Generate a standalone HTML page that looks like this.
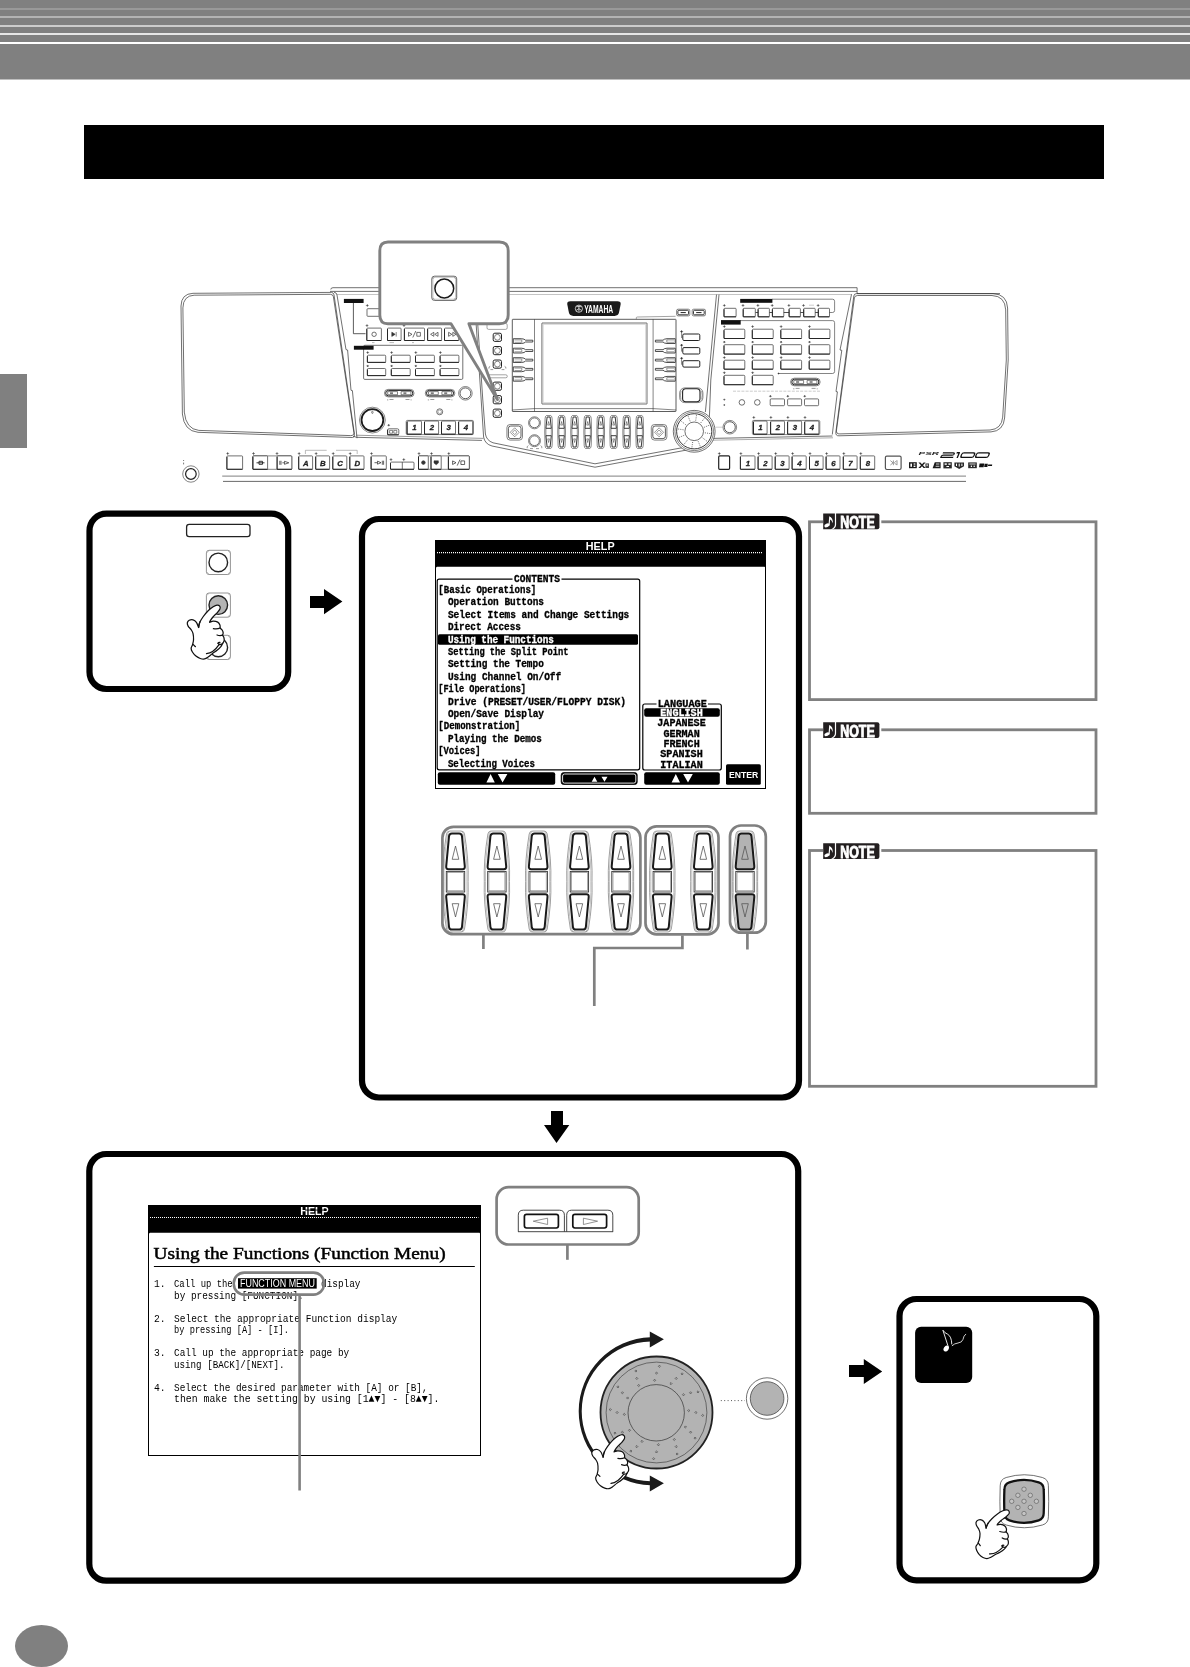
<!DOCTYPE html>
<html><head><meta charset="utf-8">
<style>
html,body{margin:0;padding:0;background:#fff;}
body{width:1190px;height:1667px;overflow:hidden;font-family:"Liberation Sans",sans-serif;}
svg{display:block;position:absolute;left:0;top:0;will-change:transform;}
text{font-family:"Liberation Sans",sans-serif;}
.lcd{font-family:"Liberation Mono",monospace;font-weight:bold;}
.lcdr{font-family:"Liberation Mono",monospace;}
</style></head><body>
<svg width="1190" height="1667" viewBox="0 0 1190 1667">
<!-- HEADER -->
<g id="header">
<rect x="0" y="0" width="1190" height="79.5" fill="#808080"/>
<rect x="0" y="8" width="1190" height="2" fill="#999"/>
<rect x="0" y="16" width="1190" height="2" fill="#b3b3b3"/>
<rect x="0" y="25" width="1190" height="2" fill="#ccc"/>
<rect x="0" y="33" width="1190" height="2" fill="#e6e6e6"/>
<rect x="0" y="42" width="1190" height="2" fill="#fff"/>
<rect x="0" y="374" width="27" height="74" fill="#808080"/>
<ellipse cx="41.5" cy="1646" rx="26.5" ry="21" fill="#808080"/>
<rect x="84" y="125" width="1020" height="54" fill="#000"/>
</g>
<!-- BOXES -->
<g id="boxes" fill="none" stroke="#000" stroke-width="6.2">
<rect x="89.5" y="513.7" width="198.7" height="175.3" rx="17" ry="17"/>
<rect x="362" y="519" width="437" height="578.5" rx="17" ry="17"/>
<rect x="89.3" y="1154" width="708.9" height="426.7" rx="17" ry="17"/>
<rect x="899.5" y="1299" width="196.8" height="281.4" rx="17" ry="17"/>
</g>
<!-- ARROWS -->
<g id="arrows" fill="#000">
<path d="M310 595.9H324V588.9L342.4 601.5L324 614.2V607.9H310Z"/>
<path d="M849 1365.1H863.8V1358.9L882.2 1371.5L863.8 1383.9V1376.9H849Z"/>
<path d="M551 1111H563V1125H569.3L556.5 1143L544 1125H551Z"/>
</g>
<!-- NOTES -->
<g id="notes" fill="none" stroke="#808080" stroke-width="2.8">
<rect x="809.5" y="521.8" width="286.5" height="177.8"/>
<rect x="809.5" y="729.8" width="286.5" height="83.5"/>
<rect x="809.5" y="850.5" width="286.5" height="235.8"/>
</g>
<!-- KEYBOARD -->
<g id="kb" fill="none" stroke="#333" stroke-width="0.7" stroke-linejoin="round">
<path d="M193.0 293.3L331.5 292.4Q333.6 292.5 334.0 294.8L354.5 434.5Q354.8 437.6 352.4 437.5L198.0 432.3Q184.0 431.0 182.4 414.0L181.0 306.0Q181.3 293.8 193.0 293.3Z" fill="#fff"/><path d="M194.1 295.2L330.4 294.3Q333.0 294.4 333.4 296.7L353.9 432.6Q354.2 435.7 350.5 435.6L198.8 430.4Q185.9 429.1 184.3 412.1L182.9 307.9Q183.2 295.7 194.1 295.2Z"/>
<path d="M856.5 293.6L993.0 293.6Q1007.0 294.2 1007.6 308.0L1008.2 360.0L1004.6 418.0Q1003.5 431.0 991.0 431.9L839.0 435.8Q835.3 436.0 835.9 432.0L853.8 296.0Q854.1 293.7 856.5 293.6Z" fill="#fff"/><path d="M857.5 295.5L992.0 295.5Q1005.1 296.1 1005.7 309.9L1006.3 360.0L1002.7 417.1Q1001.6 429.1 990.0 430.0L839.8 433.9Q835.9 434.1 836.5 430.1L854.4 297.9Q854.7 295.6 857.5 295.5Z"/>
<path d="M222.2 476.1H966" stroke="#999" stroke-width="1.3"/><path d="M223 481.4H966" stroke="#444" stroke-width="0.8"/>
<circle cx="190.9" cy="474" r="8.2" stroke-width="0.6"/><circle cx="190.9" cy="474" r="5.3" stroke="#222" stroke-width="1.2"/>
<path d="M183.6 460V461M183.6 462.6V464.4" stroke="#555" stroke-width="0.8"/>
<path d="M330.8 289.5Q330.8 287.7 333 287.7H857.1V291.4"/>
<path d="M330 291.4H857.1"/>
<path d="M337 294.5H852" stroke="#aaa" stroke-width="0.7"/>
<path d="M334 292.2Q336.6 292.4 337 295L346 349.6L347.6 350L351 390.3L352.4 390.6L357 438.2"/>
<path d="M356.5 437.3L482 440.4"/><path d="M353 436.2L356.5 437.3"/>
<path d="M477.8 325L482.8 400L485.4 434Q486.5 440.5 493 442.8L595 463.8L684 447.4"/>
<path d="M476.2 325L481.2 400L483.6 437Q484.8 444 492 446L595 467.2L689 449.6"/>
<path d="M356 435.2L483.4 438.4" stroke="#555" stroke-width="0.6"/>
<path d="M716.5 294.6L705.4 412"/><path d="M719 294.6L710.8 380L708.6 438.3"/>
<path d="M712 438.4L832.4 436"/><path d="M713 440.2L833 437.8" stroke="#777" stroke-width="0.6"/>
<path d="M851.5 294.4L840 350L841.8 350.3L836 391.5L837.4 391.8L832.3 434.5"/>
<path d="M857.1 291.4V293.6H1000" />
</g>
<!-- KB left panel -->
<g id="kb2" fill="none" stroke="#333" stroke-width="0.7" stroke-linejoin="round">
<rect x="343.9" y="298.9" width="19.7" height="4.1" fill="#111" stroke="none"/>
<path d="M353.4 303V333.7H365.5" stroke-width="0.8"/>
<rect x="367.0" y="308.7" width="25.0" height="7.6" rx="0.8" fill="#fff" stroke="#333" stroke-width="0.7" />
<rect x="366.8" y="328.1" width="14.6" height="12.4" rx="0.8" fill="#fff" stroke="#333" stroke-width="0.7" /><path d="M366.8 329.1V340.5H381.4" fill="none" stroke="#222" stroke-width="0.95"/>
<rect x="387.5" y="328.1" width="13.6" height="12.4" rx="0.8" fill="#fff" stroke="#333" stroke-width="0.7" /><path d="M387.5 329.1V340.5H401.1" fill="none" stroke="#222" stroke-width="0.95"/>
<rect x="404.4" y="328.1" width="20.1" height="12.4" rx="0.8" fill="#fff" stroke="#333" stroke-width="0.7" /><path d="M404.4 329.1V340.5H424.5" fill="none" stroke="#222" stroke-width="0.95"/>
<rect x="427.6" y="328.1" width="14.0" height="12.4" rx="0.8" fill="#fff" stroke="#333" stroke-width="0.7" /><path d="M427.6 329.1V340.5H441.6" fill="none" stroke="#222" stroke-width="0.95"/>
<rect x="444.5" y="328.1" width="14.1" height="12.4" rx="0.8" fill="#fff" stroke="#333" stroke-width="0.7" /><path d="M444.5 329.1V340.5H458.6" fill="none" stroke="#222" stroke-width="0.95"/>
<circle cx="374.1" cy="334.3" r="2.2" stroke-width="0.7"/>
<path d="M391.8 332.2L395.2 334.3L391.8 336.4ZM396.2 332V336.6" fill="#333" stroke-width="0.6"/>
<path d="M408.5 332.3L412 334.3L408.5 336.3ZM415.8 331L412.8 337.5M416.8 332.4H420.4V336.2H416.8Z" stroke-width="0.7"/>
<path d="M433.8 332.3L430.6 334.3L433.8 336.3ZM438 332.3L434.8 334.3L438 336.3Z" stroke-width="0.7"/>
<path d="M448.6 332.3L451.8 334.3L448.6 336.3ZM452.8 332.3L456 334.3L452.8 336.3Z" stroke-width="0.7"/>
<path d="M372 342.6H374.5M389.5 342.6H394M412 342.6H414" stroke="#777" stroke-width="0.5"/>
<rect x="363.6" y="345.3" width="99.2" height="34.1" rx="1.2" fill="#fff" stroke="#333" stroke-width="0.7" />
<rect x="353.9" y="345.8" width="19.7" height="3.9" fill="#111" stroke="none"/>
<rect x="367.4" y="355.2" width="18.3" height="7.2" rx="1" fill="#fff" stroke="#333" stroke-width="0.7" /><path d="M367.4 356.2V362.4H385.7" fill="none" stroke="#222" stroke-width="0.95"/>
<rect x="391.3" y="355.2" width="18.9" height="7.2" rx="1" fill="#fff" stroke="#333" stroke-width="0.7" /><path d="M391.3 356.2V362.4H410.2" fill="none" stroke="#222" stroke-width="0.95"/>
<rect x="415.5" y="355.2" width="18.9" height="7.2" rx="1" fill="#fff" stroke="#333" stroke-width="0.7" /><path d="M415.5 356.2V362.4H434.4" fill="none" stroke="#222" stroke-width="0.95"/>
<rect x="440.1" y="355.2" width="18.8" height="7.2" rx="1" fill="#fff" stroke="#333" stroke-width="0.7" /><path d="M440.1 356.2V362.4H458.9" fill="none" stroke="#222" stroke-width="0.95"/>
<rect x="367.4" y="368.5" width="18.3" height="7.1" rx="1" fill="#fff" stroke="#333" stroke-width="0.7" /><path d="M367.4 369.5V375.6H385.7" fill="none" stroke="#222" stroke-width="0.95"/>
<rect x="391.3" y="368.5" width="18.9" height="7.1" rx="1" fill="#fff" stroke="#333" stroke-width="0.7" /><path d="M391.3 369.5V375.6H410.2" fill="none" stroke="#222" stroke-width="0.95"/>
<rect x="415.5" y="368.5" width="18.9" height="7.1" rx="1" fill="#fff" stroke="#333" stroke-width="0.7" /><path d="M415.5 369.5V375.6H434.4" fill="none" stroke="#222" stroke-width="0.95"/>
<rect x="440.1" y="368.5" width="18.8" height="7.1" rx="1" fill="#fff" stroke="#333" stroke-width="0.7" /><path d="M440.1 369.5V375.6H458.9" fill="none" stroke="#222" stroke-width="0.95"/>
<rect x="384.5" y="389.4" width="29.5" height="7.5" rx="3.6" stroke-width="0.6"/><rect x="385.7" y="390.4" width="27.1" height="5.5" rx="2.8" stroke="#222" stroke-width="1"/><rect x="387.7" y="391.6" width="9.8" height="3.1" stroke-width="0.6"/><rect x="401.1" y="391.6" width="9.8" height="3.1" stroke-width="0.6"/><path d="M390.0 393.1h3M403.4 393.1h3" stroke="#222" stroke-width="1"/><path d="M387.0 399.9h1.3M389.5 399.5h4M405.5 399.5h4M410.6 399.9h1" stroke="#555" stroke-width="0.6"/>
<rect x="425.3" y="389.4" width="29.5" height="7.5" rx="3.6" stroke-width="0.6"/><rect x="426.5" y="390.4" width="27.1" height="5.5" rx="2.8" stroke="#222" stroke-width="1"/><rect x="428.5" y="391.6" width="9.8" height="3.1" stroke-width="0.6"/><rect x="441.9" y="391.6" width="9.8" height="3.1" stroke-width="0.6"/><path d="M430.8 393.1h3M444.2 393.1h3" stroke="#222" stroke-width="1"/><path d="M427.8 399.9h1.3M430.3 399.5h4M446.3 399.5h4M451.4 399.9h1" stroke="#555" stroke-width="0.6"/>
<circle cx="465.4" cy="393.3" r="6.8" stroke-width="0.6"/><circle cx="465.4" cy="393.3" r="5.4" stroke-width="0.8"/>
<circle cx="439.7" cy="411.8" r="3" stroke-width="0.7"/><circle cx="439.7" cy="411.8" r="1.8" stroke="#777" stroke-width="0.6"/>
<circle cx="372.4" cy="420.1" r="12.9" stroke-width="0.6"/><circle cx="372.4" cy="420.1" r="10.9" stroke="#1a1a1a" stroke-width="1.8"/>
<ellipse cx="372.4" cy="412.3" rx="0.7" ry="1.2" stroke-width="0.6"/>
<rect x="387.6" y="428.8" width="11.2" height="6.0" rx="1.4" fill="#fff" stroke="#333" stroke-width="0.7" /><path d="M387.6 429.8V434.8H398.8" fill="none" stroke="#222" stroke-width="0.95"/>
<path d="M389.6 430.4H392.6V433.2H389.6ZM393.8 430.4H396.8V433.2H393.8Z" stroke-width="0.6"/>
<rect x="406.2" y="420.4" width="67.3" height="14.2" rx="1.2" fill="#fff" stroke="#333" stroke-width="0.6" /><rect x="407.1" y="421.0" width="14.4" height="13.2" rx="1" fill="#fff" stroke="#333" stroke-width="0.7" /><path d="M407.1 422.0V434.2H421.5" fill="none" stroke="#222" stroke-width="0.95"/><text x="414.5" y="430.4" text-anchor="middle" font-size="7.8" font-weight="bold" font-style="italic" fill="#222" stroke="#222" stroke-width="0.3">1</text><rect x="424.5" y="421.0" width="14.1" height="13.2" rx="1" fill="#fff" stroke="#333" stroke-width="0.7" /><path d="M424.5 422.0V434.2H438.6" fill="none" stroke="#222" stroke-width="0.95"/><text x="431.8" y="430.4" text-anchor="middle" font-size="7.8" font-weight="bold" font-style="italic" fill="#222" stroke="#222" stroke-width="0.3">2</text><rect x="441.5" y="421.0" width="14.0" height="13.2" rx="1" fill="#fff" stroke="#333" stroke-width="0.7" /><path d="M441.5 422.0V434.2H455.5" fill="none" stroke="#222" stroke-width="0.95"/><text x="448.7" y="430.4" text-anchor="middle" font-size="7.8" font-weight="bold" font-style="italic" fill="#222" stroke="#222" stroke-width="0.3">3</text><rect x="458.6" y="421.0" width="14.0" height="13.2" rx="1" fill="#fff" stroke="#333" stroke-width="0.7" /><path d="M458.6 422.0V434.2H472.6" fill="none" stroke="#222" stroke-width="0.95"/><text x="465.8" y="430.4" text-anchor="middle" font-size="7.8" font-weight="bold" font-style="italic" fill="#222" stroke="#222" stroke-width="0.3">4</text>
<path d="M367.3 304.5L368.3 305.5L367.3 306.5L366.3 305.5ZM367.0 324.6L368.0 325.6L367.0 326.6L366.0 325.6ZM404.0 324.6L405.0 325.6L404.0 326.6L403.0 325.6ZM367.7 351.6L368.7 352.6L367.7 353.6L366.7 352.6ZM391.6 351.6L392.6 352.6L391.6 353.6L390.6 352.6ZM415.8 351.6L416.8 352.6L415.8 353.6L414.8 352.6ZM440.4 351.6L441.4 352.6L440.4 353.6L439.4 352.6ZM367.7 364.9L368.7 365.9L367.7 366.9L366.7 365.9ZM391.6 364.9L392.6 365.9L391.6 366.9L390.6 365.9ZM415.8 364.9L416.8 365.9L415.8 366.9L414.8 365.9ZM440.4 364.9L441.4 365.9L440.4 366.9L439.4 365.9ZM388.7 424.2L389.7 425.2L388.7 426.2L387.7 425.2Z" fill="#555" stroke="#333" stroke-width="0.4"/>
</g>

<g id="kb3" fill="none" stroke="#333" stroke-width="0.7" stroke-linejoin="round">
<rect x="226.9" y="455.9" width="15.7" height="13.4" rx="0.8" fill="#fff" stroke="#333" stroke-width="0.7" /><path d="M226.9 456.9V469.3H242.6" fill="none" stroke="#222" stroke-width="0.95"/>
<rect x="252.9" y="455.9" width="38.9" height="13.4" rx="0.8" fill="#fff" stroke="#333" stroke-width="0.6" />
<rect x="252.9" y="455.9" width="14.7" height="13.4" rx="0.8" fill="#fff" stroke="#333" stroke-width="0.7" /><path d="M252.9 456.9V469.3H267.6" fill="none" stroke="#222" stroke-width="0.95"/>
<rect x="277.1" y="455.9" width="14.7" height="13.4" rx="0.8" fill="#fff" stroke="#333" stroke-width="0.7" /><path d="M277.1 456.9V469.3H291.8" fill="none" stroke="#222" stroke-width="0.95"/>
<path d="M256.5 462.8H264.5M259 461.3H262.5V464.3H259Z" stroke="#222" stroke-width="0.9"/>
<path d="M279.8 460.8V464.8M281 460.8V464.8M282.4 462.8H284M284.5 461.3L288.8 462.8L284.5 464.3Z" stroke="#222" stroke-width="0.7"/>
<rect x="298.7" y="455.9" width="13.9" height="13.4" rx="0.8" fill="#fff" stroke="#333" stroke-width="0.7" /><path d="M298.7 456.9V469.3H312.6" fill="none" stroke="#222" stroke-width="0.95"/>
<text x="305.9" y="465.5" text-anchor="middle" font-size="7.8" font-weight="bold" font-style="italic" fill="#222" stroke="#222" stroke-width="0.3">A</text>
<rect x="315.7" y="455.9" width="13.9" height="13.4" rx="0.8" fill="#fff" stroke="#333" stroke-width="0.7" /><path d="M315.7 456.9V469.3H329.6" fill="none" stroke="#222" stroke-width="0.95"/>
<text x="322.9" y="465.5" text-anchor="middle" font-size="7.8" font-weight="bold" font-style="italic" fill="#222" stroke="#222" stroke-width="0.3">B</text>
<rect x="332.8" y="455.9" width="14.0" height="13.4" rx="0.8" fill="#fff" stroke="#333" stroke-width="0.7" /><path d="M332.8 456.9V469.3H346.8" fill="none" stroke="#222" stroke-width="0.95"/>
<text x="340.1" y="465.5" text-anchor="middle" font-size="7.8" font-weight="bold" font-style="italic" fill="#222" stroke="#222" stroke-width="0.3">C</text>
<rect x="349.8" y="455.9" width="14.2" height="13.4" rx="0.8" fill="#fff" stroke="#333" stroke-width="0.7" /><path d="M349.8 456.9V469.3H364.0" fill="none" stroke="#222" stroke-width="0.95"/>
<text x="357.2" y="465.5" text-anchor="middle" font-size="7.8" font-weight="bold" font-style="italic" fill="#222" stroke="#222" stroke-width="0.3">D</text>
<path d="M305.4 454V450.3H326.7M336 450.3H357.2V454" stroke="#777" stroke-width="0.5"/>
<rect x="371.1" y="455.9" width="15.2" height="13.4" rx="0.8" fill="#fff" stroke="#333" stroke-width="0.7" /><path d="M371.1 456.9V469.3H386.3" fill="none" stroke="#222" stroke-width="0.95"/>
<path d="M374.5 462.7H377M377.5 461.2L381 462.7L377.5 464.2ZM382.3 460.7V464.8M383.6 460.7V464.8" stroke="#222" stroke-width="0.7"/>
<rect x="390.5" y="462.1" width="23.5" height="7.2" rx="1" fill="#fff" stroke="#333" stroke-width="0.7" /><path d="M390.5 463.1V469.3H414.0" fill="none" stroke="#222" stroke-width="0.95"/>
<path d="M402.3 462.1V469.3"/>
<rect x="418.5" y="455.9" width="50.9" height="13.4" rx="0.8" fill="#fff" stroke="#333" stroke-width="0.6" />
<rect x="418.5" y="455.9" width="9.8" height="13.4" rx="0.8" fill="#fff" stroke="#333" stroke-width="0.7" /><path d="M418.5 456.9V469.3H428.3" fill="none" stroke="#222" stroke-width="0.95"/>
<rect x="431.0" y="455.9" width="10.2" height="13.4" rx="0.8" fill="#fff" stroke="#333" stroke-width="0.7" /><path d="M431.0 456.9V469.3H441.2" fill="none" stroke="#222" stroke-width="0.95"/>
<rect x="448.4" y="455.9" width="20.9" height="13.4" rx="0.8" fill="#fff" stroke="#333" stroke-width="0.7" /><path d="M448.4 456.9V469.3H469.3" fill="none" stroke="#222" stroke-width="0.95"/>
<circle cx="423.4" cy="462.6" r="1.8" fill="#333"/>
<path d="M434 460.8H438.4V463L436.2 464.8L434 463Z" fill="#333" stroke-width="0.5"/>
<path d="M452.6 460.9L456 462.7L452.6 464.5ZM460 459.6L457.2 465.6M460.9 460.9H464.6V464.5H460.9Z" stroke="#222" stroke-width="0.7"/>
<rect x="718.7" y="455.9" width="10.9" height="13.4" rx="1" fill="#fff" stroke="#222" stroke-width="1.2" />
<rect x="740.4" y="455.9" width="14.6" height="13.4" rx="0.8" fill="#fff" stroke="#333" stroke-width="0.7" /><path d="M740.4 456.9V469.3H755.0" fill="none" stroke="#222" stroke-width="0.95"/>
<text x="748.0" y="465.5" text-anchor="middle" font-size="7.8" font-weight="bold" font-style="italic" fill="#222" stroke="#222" stroke-width="0.3">1</text>
<rect x="758.1" y="455.9" width="14.0" height="13.4" rx="0.8" fill="#fff" stroke="#333" stroke-width="0.7" /><path d="M758.1 456.9V469.3H772.1" fill="none" stroke="#222" stroke-width="0.95"/>
<text x="765.4" y="465.5" text-anchor="middle" font-size="7.8" font-weight="bold" font-style="italic" fill="#222" stroke="#222" stroke-width="0.3">2</text>
<rect x="775.2" y="455.9" width="13.9" height="13.4" rx="0.8" fill="#fff" stroke="#333" stroke-width="0.7" /><path d="M775.2 456.9V469.3H789.1" fill="none" stroke="#222" stroke-width="0.95"/>
<text x="782.5" y="465.5" text-anchor="middle" font-size="7.8" font-weight="bold" font-style="italic" fill="#222" stroke="#222" stroke-width="0.3">3</text>
<rect x="792.1" y="455.9" width="14.1" height="13.4" rx="0.8" fill="#fff" stroke="#333" stroke-width="0.7" /><path d="M792.1 456.9V469.3H806.2" fill="none" stroke="#222" stroke-width="0.95"/>
<text x="799.5" y="465.5" text-anchor="middle" font-size="7.8" font-weight="bold" font-style="italic" fill="#222" stroke="#222" stroke-width="0.3">4</text>
<rect x="809.5" y="455.9" width="13.6" height="13.4" rx="0.8" fill="#fff" stroke="#333" stroke-width="0.7" /><path d="M809.5 456.9V469.3H823.1" fill="none" stroke="#222" stroke-width="0.95"/>
<text x="816.6" y="465.5" text-anchor="middle" font-size="7.8" font-weight="bold" font-style="italic" fill="#222" stroke="#222" stroke-width="0.3">5</text>
<rect x="826.1" y="455.9" width="13.9" height="13.4" rx="0.8" fill="#fff" stroke="#333" stroke-width="0.7" /><path d="M826.1 456.9V469.3H840.0" fill="none" stroke="#222" stroke-width="0.95"/>
<text x="833.3" y="465.5" text-anchor="middle" font-size="7.8" font-weight="bold" font-style="italic" fill="#222" stroke="#222" stroke-width="0.3">6</text>
<rect x="843.3" y="455.9" width="13.8" height="13.4" rx="0.8" fill="#fff" stroke="#333" stroke-width="0.7" /><path d="M843.3 456.9V469.3H857.1" fill="none" stroke="#222" stroke-width="0.95"/>
<text x="850.5" y="465.5" text-anchor="middle" font-size="7.8" font-weight="bold" font-style="italic" fill="#222" stroke="#222" stroke-width="0.3">7</text>
<rect x="860.3" y="455.9" width="14.4" height="13.4" rx="0.8" fill="#fff" stroke="#333" stroke-width="0.7" /><path d="M860.3 456.9V469.3H874.7" fill="none" stroke="#222" stroke-width="0.95"/>
<text x="867.8" y="465.5" text-anchor="middle" font-size="7.8" font-weight="bold" font-style="italic" fill="#222" stroke="#222" stroke-width="0.3">8</text>
<rect x="885.4" y="456.1" width="15.7" height="13.4" rx="1.4" fill="#fff" stroke="#555" stroke-width="1.2" />
<path d="M890.4 460.6L893 462.8L890.4 465M893.4 460.4V465.2M896.6 460.6L894.4 462.8L896.6 465M897 460.4V465.2" stroke="#555" stroke-width="0.6"/>
<path d="M227.7 452.5L228.7 453.5L227.7 454.5L226.7 453.5ZM253.5 452.5L254.5 453.5L253.5 454.5L252.5 453.5ZM277.0 452.5L278.0 453.5L277.0 454.5L276.0 453.5ZM299.1 452.6L300.1 453.6L299.1 454.6L298.1 453.6ZM316.1 452.6L317.1 453.6L316.1 454.6L315.1 453.6ZM333.2 452.6L334.2 453.6L333.2 454.6L332.2 453.6ZM350.2 452.6L351.2 453.6L350.2 454.6L349.2 453.6ZM371.5 452.6L372.5 453.6L371.5 454.6L370.5 453.6ZM391.0 458.6L392.0 459.6L391.0 460.6L390.0 459.6ZM403.8 458.6L404.8 459.6L403.8 460.6L402.8 459.6ZM419.0 452.6L420.0 453.6L419.0 454.6L418.0 453.6ZM431.5 452.6L432.5 453.6L431.5 454.6L430.5 453.6ZM448.8 452.6L449.8 453.6L448.8 454.6L447.8 453.6ZM719.3 452.6L720.3 453.6L719.3 454.6L718.3 453.6ZM740.9 452.6L741.9 453.6L740.9 454.6L739.9 453.6ZM758.6 452.6L759.6 453.6L758.6 454.6L757.6 453.6ZM775.7 452.6L776.7 453.6L775.7 454.6L774.7 453.6ZM792.6 452.6L793.6 453.6L792.6 454.6L791.6 453.6ZM810.0 452.6L811.0 453.6L810.0 454.6L809.0 453.6ZM826.6 452.6L827.6 453.6L826.6 454.6L825.6 453.6ZM843.8 452.6L844.8 453.6L843.8 454.6L842.8 453.6ZM860.8 452.6L861.8 453.6L860.8 454.6L859.8 453.6Z" fill="#555" stroke="#333" stroke-width="0.4"/>
<text x="918.6" y="454.8" font-size="3.3" font-style="italic" font-weight="bold" fill="#222" stroke="none" textLength="20.4" lengthAdjust="spacingAndGlyphs">PSR</text>
<g transform="translate(939.6 458) skewX(-22) scale(0.945 1)" fill="none" stroke="#111" stroke-width="1.25" stroke-linejoin="round"><path d="M1.2 -5.2H12.2Q13.8 -5.2 13.8 -4.05Q13.8 -2.9 12.2 -2.9H2.6Q1 -2.9 1 -1.7V-0.6H14.2"/><path d="M15.8 -5.2H18.6V0" stroke-width="1.5"/><rect x="21.8" y="-5.2" width="13.6" height="4.6" rx="1.7" stroke-width="1.35"/><rect x="37.4" y="-5.2" width="13.4" height="4.6" rx="1.7" stroke-width="1.35"/></g>
<g fill="#1a1a1a" stroke="none"><rect x="909" y="462.2" width="7.8" height="6"/><rect x="910.4" y="463.6" width="1.6" height="3.2" fill="#fff"/><rect x="913.6" y="463.4" width="1.8" height="1.2" fill="#fff"/><rect x="913.6" y="465.6" width="1.8" height="1.4" fill="#fff"/><path d="M918.4 462.4L921 465.2L918.4 468H920.4L922 466.2L923.6 468H925.6L923 465.2L925.6 462.4H923.6L922 464.2L920.4 462.4Z"/><rect x="925.4" y="463.4" width="3.6" height="4.6" fill="#444"/><rect x="926.4" y="464.6" width="1.6" height="1" fill="#fff"/><path d="M932.6 468.2L934.8 462.2H940.6V468.2Z"/><rect x="936" y="463.6" width="3.4" height="0.8" fill="#fff"/><rect x="935.6" y="465.8" width="3.8" height="0.8" fill="#fff"/><rect x="943.4" y="462.2" width="8.4" height="6.2" fill="#2a2a2a"/><rect x="944.6" y="463.4" width="2.2" height="1.4" fill="#fff"/><rect x="948.4" y="463.4" width="2.2" height="1.4" fill="#fff"/><rect x="946.4" y="466" width="2.6" height="1" fill="#fff"/><path d="M954.4 462.4H964V466.2L959.2 469L954.4 466.2Z" fill="#2a2a2a"/><rect x="956" y="463.6" width="1" height="2.4" fill="#fff"/><rect x="958.7" y="463.6" width="1" height="3" fill="#fff"/><rect x="961.4" y="463.6" width="1" height="2.4" fill="#fff"/><rect x="968.2" y="462.4" width="8.6" height="5.8" fill="#2a2a2a"/><rect x="969.4" y="463.6" width="6.2" height="0.8" fill="#fff"/><rect x="970.8" y="465.6" width="1.2" height="1.4" fill="#fff"/><rect x="973.6" y="465.6" width="1.2" height="1.4" fill="#fff"/><path d="M979.6 463.4H984.2L983.6 467.2H979ZM984.6 463.8H987.8L987.4 467H984.2ZM988.2 464.4H992.2L992 466H988Z" fill="#111"/></g>
</g>
<!-- KB console -->
<g id="kb4" fill="none" stroke="#333" stroke-width="0.7" stroke-linejoin="round">
<path d="M570.5 301.2H617.4Q621.2 301.2 620.6 304.5L619 312.6Q618.3 315.9 614.6 315.9H573.3Q569.6 315.9 568.9 312.6L567.3 304.5Q566.7 301.2 570.5 301.2Z" fill="#1a1a1a" stroke="none"/>
<circle cx="578.9" cy="308.7" r="3.6" stroke="#fff" stroke-width="0.7"/><path d="M578.9 305.6V311.6M578.9 308.7L576.2 310.4M578.9 308.7L581.6 310.4M576.6 306.6L581.2 306.6" stroke="#fff" stroke-width="0.7"/>
<text x="584.2" y="312.6" font-size="10.4" font-weight="bold" fill="#fff" stroke="none" textLength="29" lengthAdjust="spacingAndGlyphs">YAMAHA</text>
<rect x="512.3" y="319.3" width="163.7" height="92.2" rx="0.5" fill="#fff" stroke="#333" stroke-width="0.8" />
<path d="M534.5 319.3V411.5M653.1 319.3V411.5M512.3 410L534.5 408.6H653.1L676 410" stroke-width="0.6"/>
<rect x="541.9" y="323.0" width="105.1" height="81.0" rx="0.3" fill="#fff" stroke="#333" stroke-width="0.7" />
<rect x="543.2" y="324.3" width="102.5" height="78.4" rx="0.3" fill="none" stroke="#999" stroke-width="0.4" />
<path d="M513.3 338.7H521.5Q524.5 338.9 525.5 340.2H532.8V342.0H525.5Q524.5 343.3 521.5 343.5H513.3Z" stroke="#222" stroke-width="0.8"/>
<path d="M514.5 339.9H521.8V342.3H514.5" stroke-width="0.5"/>
<path d="M675.2 338.7H667Q664 338.9 663 340.2H655.4V342.0H663Q664 343.3 667 343.5H675.2Z" stroke="#222" stroke-width="0.8"/>
<path d="M674 339.9H666.8V342.3H674" stroke-width="0.5"/>
<path d="M513.3 348.2H521.5Q524.5 348.4 525.5 349.7H532.8V351.5H525.5Q524.5 352.8 521.5 353.0H513.3Z" stroke="#222" stroke-width="0.8"/>
<path d="M514.5 349.4H521.8V351.8H514.5" stroke-width="0.5"/>
<path d="M675.2 348.2H667Q664 348.4 663 349.7H655.4V351.5H663Q664 352.8 667 353.0H675.2Z" stroke="#222" stroke-width="0.8"/>
<path d="M674 349.4H666.8V351.8H674" stroke-width="0.5"/>
<path d="M513.3 357.7H521.5Q524.5 357.9 525.5 359.2H532.8V361.0H525.5Q524.5 362.3 521.5 362.5H513.3Z" stroke="#222" stroke-width="0.8"/>
<path d="M514.5 358.9H521.8V361.3H514.5" stroke-width="0.5"/>
<path d="M675.2 357.7H667Q664 357.9 663 359.2H655.4V361.0H663Q664 362.3 667 362.5H675.2Z" stroke="#222" stroke-width="0.8"/>
<path d="M674 358.9H666.8V361.3H674" stroke-width="0.5"/>
<path d="M513.3 366.9H521.5Q524.5 367.1 525.5 368.4H532.8V370.2H525.5Q524.5 371.5 521.5 371.7H513.3Z" stroke="#222" stroke-width="0.8"/>
<path d="M514.5 368.1H521.8V370.5H514.5" stroke-width="0.5"/>
<path d="M675.2 366.9H667Q664 367.1 663 368.4H655.4V370.2H663Q664 371.5 667 371.7H675.2Z" stroke="#222" stroke-width="0.8"/>
<path d="M674 368.1H666.8V370.5H674" stroke-width="0.5"/>
<path d="M513.3 376.4H521.5Q524.5 376.6 525.5 377.9H532.8V379.7H525.5Q524.5 381.0 521.5 381.2H513.3Z" stroke="#222" stroke-width="0.8"/>
<path d="M514.5 377.6H521.8V380.0H514.5" stroke-width="0.5"/>
<path d="M675.2 376.4H667Q664 376.6 663 377.9H655.4V379.7H663Q664 381.0 667 381.2H675.2Z" stroke="#222" stroke-width="0.8"/>
<path d="M674 377.6H666.8V380.0H674" stroke-width="0.5"/>
<rect x="493.2" y="333.2" width="8.3" height="8.2" rx="1.6" fill="#fff" stroke="#222" stroke-width="1" />
<circle cx="497.4" cy="337.3" r="2.9" stroke-width="0.6"/>
<rect x="493.2" y="346.5" width="8.3" height="8.2" rx="1.6" fill="#fff" stroke="#222" stroke-width="1" />
<circle cx="497.4" cy="350.6" r="2.9" stroke-width="0.6"/>
<rect x="493.2" y="360.0" width="8.3" height="8.2" rx="1.6" fill="#fff" stroke="#222" stroke-width="1" />
<circle cx="497.4" cy="364.1" r="2.9" stroke-width="0.6"/>
<rect x="493.2" y="382.1" width="8.3" height="8.2" rx="1.6" fill="#fff" stroke="#222" stroke-width="1" />
<circle cx="497.4" cy="386.2" r="2.9" stroke-width="0.6"/>
<rect x="493.2" y="395.6" width="8.3" height="8.2" rx="1.6" fill="#fff" stroke="#222" stroke-width="1" />
<circle cx="497.4" cy="399.7" r="2.9" stroke-width="0.6"/>
<rect x="493.2" y="409.1" width="8.3" height="8.2" rx="1.6" fill="#fff" stroke="#222" stroke-width="1" />
<circle cx="497.4" cy="413.2" r="2.9" stroke-width="0.6"/>
<path d="M490.2 366.3Q488.6 366.6 488.9 368.6M504.6 366.3Q506.2 366.6 505.9 368.6M490.4 369.6H493.2M501.6 369.6H504.4" stroke="#555" stroke-width="0.6"/>
<rect x="487.0" y="323.4" width="20.2" height="6.0" rx="1.6" fill="#fff" stroke="#666" stroke-width="0.6" />
<path d="M488 374.8H505.8Q507.3 374.8 507.3 376.3Q507.3 377.8 505.8 377.8H488" stroke="#666" stroke-width="0.6"/>
<rect x="682.8" y="334.0" width="17.0" height="6.5" rx="1.2" fill="#fff" stroke="#222" stroke-width="1" />
<path d="M681.6 332.8V338.0" stroke-width="0.6"/>
<rect x="682.8" y="347.6" width="17.0" height="6.4" rx="1.2" fill="#fff" stroke="#222" stroke-width="1" />
<path d="M681.6 346.4V351.6" stroke-width="0.6"/>
<rect x="682.8" y="360.7" width="17.0" height="6.4" rx="1.2" fill="#fff" stroke="#222" stroke-width="1" />
<path d="M681.6 359.5V364.7" stroke-width="0.6"/>
<rect x="676.6" y="309.2" width="13.2" height="6.7" rx="1.5" fill="#fff" stroke="#333" stroke-width="0.6" />
<rect x="677.9" y="310.3" width="10.6" height="4.5" rx="1" fill="#fff" stroke="#222" stroke-width="0.9" />
<path d="M680.6 312.6H685.8" stroke="#222" stroke-width="1"/>
<rect x="692.2" y="309.2" width="13.3" height="6.7" rx="1.5" fill="#fff" stroke="#333" stroke-width="0.6" />
<rect x="693.5" y="310.3" width="10.7" height="4.5" rx="1" fill="#fff" stroke="#222" stroke-width="0.9" />
<path d="M696.2 312.6H701.5" stroke="#222" stroke-width="1"/>
<path d="M636.3 319.3V317.8Q636.3 317 637.5 317L675.6 316.3" stroke="#666" stroke-width="0.6"/>
<rect x="679.7" y="387.9" width="23.2" height="14.7" rx="5" stroke-width="0.6"/><rect x="682.6" y="388.8" width="17.4" height="12.9" rx="3.2" stroke="#222" stroke-width="1.1"/>
<path d="M681 391Q679.8 395 681 399.6M701.6 391Q702.8 395 701.6 399.6" stroke="#555" stroke-width="0.5"/>
<circle cx="694.2" cy="431.3" r="20.9" fill="#fff" stroke-width="0.7"/><circle cx="694.2" cy="431.3" r="19.3" stroke-width="0.6"/><circle cx="694.2" cy="431.3" r="17.6" stroke="#222" stroke-width="0.9"/><circle cx="694.2" cy="431.3" r="9.3" stroke-width="0.7"/>
<path d="M695.7 420.6L696.5 415.2M700.8 422.8L704.2 418.5M704.2 427.3L709.3 425.2M704.9 432.8L710.3 433.6M702.7 437.9L707.0 441.3M698.2 441.3L700.3 446.4M692.7 442.0L691.9 447.4M687.6 439.8L684.2 444.1M684.2 435.3L679.1 437.4M683.5 429.8L678.1 429.0M685.7 424.7L681.4 421.3M690.2 421.3L688.1 416.2" stroke="#444" stroke-width="0.8" stroke-dasharray="1 1.2"/>
<path d="M715.5 427.2H722.5" stroke="#999" stroke-width="0.5"/>
<path d="M546.4 415.6H550.8Q551.9 415.8 552.1 418.5Q552.8 432 552.1 445.5Q551.9 448.2 550.8 448.4H546.4Q545.3 448.2 545.1 445.5Q544.4 432 545.1 418.5Q545.3 415.8 546.4 415.6Z" stroke-width="0.6"/>
<path d="M547.1 417H550.1L551.3 428.3H545.9ZM547.1 447H550.1L551.3 435.7H545.9Z" stroke="#222" stroke-width="0.9"/>
<path d="M545.9 428.3V435.7M551.3 428.3V435.7M548.6 421.5l0.9 3.6h-1.8ZM548.6 442.5l0.9 -3.6h-1.8Z" stroke-width="0.5"/>
<path d="M559.4 415.6H563.8Q564.9 415.8 565.1 418.5Q565.8 432 565.1 445.5Q564.9 448.2 563.8 448.4H559.4Q558.3 448.2 558.1 445.5Q557.4 432 558.1 418.5Q558.3 415.8 559.4 415.6Z" stroke-width="0.6"/>
<path d="M560.1 417H563.1L564.3 428.3H558.9ZM560.1 447H563.1L564.3 435.7H558.9Z" stroke="#222" stroke-width="0.9"/>
<path d="M558.9 428.3V435.7M564.3 428.3V435.7M561.6 421.5l0.9 3.6h-1.8ZM561.6 442.5l0.9 -3.6h-1.8Z" stroke-width="0.5"/>
<path d="M572.4 415.6H576.8Q577.9 415.8 578.1 418.5Q578.8 432 578.1 445.5Q577.9 448.2 576.8 448.4H572.4Q571.3 448.2 571.1 445.5Q570.4 432 571.1 418.5Q571.3 415.8 572.4 415.6Z" stroke-width="0.6"/>
<path d="M573.1 417H576.1L577.3 428.3H571.9ZM573.1 447H576.1L577.3 435.7H571.9Z" stroke="#222" stroke-width="0.9"/>
<path d="M571.9 428.3V435.7M577.3 428.3V435.7M574.6 421.5l0.9 3.6h-1.8ZM574.6 442.5l0.9 -3.6h-1.8Z" stroke-width="0.5"/>
<path d="M585.5 415.6H589.9Q591.0 415.8 591.2 418.5Q591.9 432 591.2 445.5Q591.0 448.2 589.9 448.4H585.5Q584.4 448.2 584.2 445.5Q583.5 432 584.2 418.5Q584.4 415.8 585.5 415.6Z" stroke-width="0.6"/>
<path d="M586.2 417H589.2L590.4 428.3H585.0ZM586.2 447H589.2L590.4 435.7H585.0Z" stroke="#222" stroke-width="0.9"/>
<path d="M585.0 428.3V435.7M590.4 428.3V435.7M587.7 421.5l0.9 3.6h-1.8ZM587.7 442.5l0.9 -3.6h-1.8Z" stroke-width="0.5"/>
<path d="M598.5 415.6H602.9Q604.0 415.8 604.2 418.5Q604.9 432 604.2 445.5Q604.0 448.2 602.9 448.4H598.5Q597.4 448.2 597.2 445.5Q596.5 432 597.2 418.5Q597.4 415.8 598.5 415.6Z" stroke-width="0.6"/>
<path d="M599.2 417H602.2L603.4 428.3H598.0ZM599.2 447H602.2L603.4 435.7H598.0Z" stroke="#222" stroke-width="0.9"/>
<path d="M598.0 428.3V435.7M603.4 428.3V435.7M600.7 421.5l0.9 3.6h-1.8ZM600.7 442.5l0.9 -3.6h-1.8Z" stroke-width="0.5"/>
<path d="M611.5 415.6H615.9Q617.0 415.8 617.2 418.5Q617.9 432 617.2 445.5Q617.0 448.2 615.9 448.4H611.5Q610.4 448.2 610.2 445.5Q609.5 432 610.2 418.5Q610.4 415.8 611.5 415.6Z" stroke-width="0.6"/>
<path d="M612.2 417H615.2L616.4 428.3H611.0ZM612.2 447H615.2L616.4 435.7H611.0Z" stroke="#222" stroke-width="0.9"/>
<path d="M611.0 428.3V435.7M616.4 428.3V435.7M613.7 421.5l0.9 3.6h-1.8ZM613.7 442.5l0.9 -3.6h-1.8Z" stroke-width="0.5"/>
<path d="M624.5 415.6H628.9Q630.0 415.8 630.2 418.5Q630.9 432 630.2 445.5Q630.0 448.2 628.9 448.4H624.5Q623.4 448.2 623.2 445.5Q622.5 432 623.2 418.5Q623.4 415.8 624.5 415.6Z" stroke-width="0.6"/>
<path d="M625.2 417H628.2L629.4 428.3H624.0ZM625.2 447H628.2L629.4 435.7H624.0Z" stroke="#222" stroke-width="0.9"/>
<path d="M624.0 428.3V435.7M629.4 428.3V435.7M626.7 421.5l0.9 3.6h-1.8ZM626.7 442.5l0.9 -3.6h-1.8Z" stroke-width="0.5"/>
<path d="M637.5 415.6H641.9Q643.0 415.8 643.2 418.5Q643.9 432 643.2 445.5Q643.0 448.2 641.9 448.4H637.5Q636.4 448.2 636.2 445.5Q635.5 432 636.2 418.5Q636.4 415.8 637.5 415.6Z" stroke-width="0.6"/>
<path d="M638.2 417H641.2L642.4 428.3H637.0ZM638.2 447H641.2L642.4 435.7H637.0Z" stroke="#222" stroke-width="0.9"/>
<path d="M637.0 428.3V435.7M642.4 428.3V435.7M639.7 421.5l0.9 3.6h-1.8ZM639.7 442.5l0.9 -3.6h-1.8Z" stroke-width="0.5"/>
<circle cx="534.5" cy="422.8" r="6" stroke-width="0.6"/><circle cx="534.5" cy="422.8" r="4.9" stroke-width="0.7"/>
<circle cx="534.5" cy="440.7" r="6" stroke-width="0.6"/><circle cx="534.5" cy="440.7" r="4.9" stroke-width="0.7"/>
<path d="M528.4 445.6Q526.6 446.4 527.2 448.2M540.6 445.6Q542.4 446.4 541.8 448.2M530 448.6H533M536 448.6H539" stroke="#555" stroke-width="0.6"/>
<rect x="506.9" y="424.5" width="15.6" height="15.6" rx="3.2" stroke-width="0.6"/><rect x="508.4" y="426" width="12.6" height="12.6" rx="2.4" stroke-width="0.8"/>
<path d="M514.7 427.8L519.2 432.3L514.7 436.8L510.2 432.3Z" stroke-width="0.5"/><path d="M514.7 430L517.0 432.3L514.7 434.6L512.4 432.3Z" stroke-width="0.5"/>
<rect x="651.3" y="424.5" width="15.6" height="15.6" rx="3.2" stroke-width="0.6"/><rect x="652.8" y="426" width="12.6" height="12.6" rx="2.4" stroke-width="0.8"/>
<path d="M659.1 427.8L663.6 432.3L659.1 436.8L654.6 432.3Z" stroke-width="0.5"/><path d="M659.1 430L661.4 432.3L659.1 434.6L656.8 432.3Z" stroke-width="0.5"/>
<path d="M681.6 330.5L682.7 331.6L681.6 332.7L680.5 331.6ZM681.6 344.1L682.7 345.2L681.6 346.3L680.5 345.2ZM681.6 357.2L682.7 358.3L681.6 359.4L680.5 358.3Z" fill="#333" stroke="#222" stroke-width="0.4"/>
</g>

<g id="kb5" fill="none" stroke="#333" stroke-width="0.7" stroke-linejoin="round">
<rect x="740.2" y="298.9" width="32.2" height="3.9" fill="#111" stroke="none"/>
<path d="M772 299.2H832.5Q834.6 299.2 834.6 301.2V310.5Q834.6 312.5 832.5 312.5H829.5" stroke-width="0.6"/>
<path d="M755.3 312.5H829.5" stroke="#222" stroke-width="0.8"/>
<rect x="724.0" y="308.3" width="12.1" height="8.5" rx="0.8" fill="#fff" stroke="#333" stroke-width="0.7" /><path d="M724.0 309.3V316.8H736.1" fill="none" stroke="#222" stroke-width="0.95"/>
<rect x="743.2" y="308.3" width="12.1" height="8.5" rx="0.8" fill="#fff" stroke="#333" stroke-width="0.7" /><path d="M743.2 309.3V316.8H755.3" fill="none" stroke="#222" stroke-width="0.95"/>
<rect x="758.1" y="308.3" width="11.3" height="8.5" rx="0.8" fill="#fff" stroke="#333" stroke-width="0.7" /><path d="M758.1 309.3V316.8H769.4" fill="none" stroke="#222" stroke-width="0.95"/>
<rect x="772.4" y="308.3" width="11.4" height="8.5" rx="0.8" fill="#fff" stroke="#333" stroke-width="0.7" /><path d="M772.4 309.3V316.8H783.8" fill="none" stroke="#222" stroke-width="0.95"/>
<rect x="789.1" y="308.3" width="11.3" height="8.5" rx="0.8" fill="#fff" stroke="#333" stroke-width="0.7" /><path d="M789.1 309.3V316.8H800.4" fill="none" stroke="#222" stroke-width="0.95"/>
<rect x="803.7" y="308.3" width="11.5" height="8.5" rx="0.8" fill="#fff" stroke="#333" stroke-width="0.7" /><path d="M803.7 309.3V316.8H815.2" fill="none" stroke="#222" stroke-width="0.95"/>
<rect x="818.3" y="308.3" width="11.2" height="8.5" rx="0.8" fill="#fff" stroke="#333" stroke-width="0.7" /><path d="M818.3 309.3V316.8H829.5" fill="none" stroke="#222" stroke-width="0.95"/>
<path d="M809 305.2H814" stroke="#999" stroke-width="0.5"/>
<path d="M740 320.6H832.5Q834.6 320.6 834.6 322.6V371.5Q834.6 373.5 832.5 373.5H778.5" stroke-width="0.6"/><circle cx="778.5" cy="373.5" r="0.5" fill="#333"/>
<rect x="721" y="320.1" width="19.7" height="4.5" fill="#111" stroke="none"/>
<rect x="724.0" y="329.2" width="20.8" height="9.3" rx="1" fill="#fff" stroke="#333" stroke-width="0.7" /><path d="M724.0 330.2V338.5H744.8" fill="none" stroke="#222" stroke-width="0.95"/>
<rect x="752.3" y="329.2" width="20.9" height="9.3" rx="1" fill="#fff" stroke="#333" stroke-width="0.7" /><path d="M752.3 330.2V338.5H773.2" fill="none" stroke="#222" stroke-width="0.95"/>
<rect x="780.8" y="329.2" width="20.8" height="9.3" rx="1" fill="#fff" stroke="#333" stroke-width="0.7" /><path d="M780.8 330.2V338.5H801.6" fill="none" stroke="#222" stroke-width="0.95"/>
<rect x="809.2" y="329.2" width="20.7" height="9.3" rx="1" fill="#fff" stroke="#333" stroke-width="0.7" /><path d="M809.2 330.2V338.5H829.9" fill="none" stroke="#222" stroke-width="0.95"/>
<rect x="724.0" y="344.7" width="20.8" height="9.4" rx="1" fill="#fff" stroke="#333" stroke-width="0.7" /><path d="M724.0 345.7V354.1H744.8" fill="none" stroke="#222" stroke-width="0.95"/>
<rect x="752.3" y="344.7" width="20.9" height="9.4" rx="1" fill="#fff" stroke="#333" stroke-width="0.7" /><path d="M752.3 345.7V354.1H773.2" fill="none" stroke="#222" stroke-width="0.95"/>
<rect x="780.8" y="344.7" width="20.8" height="9.4" rx="1" fill="#fff" stroke="#333" stroke-width="0.7" /><path d="M780.8 345.7V354.1H801.6" fill="none" stroke="#222" stroke-width="0.95"/>
<rect x="809.2" y="344.7" width="20.7" height="9.4" rx="1" fill="#fff" stroke="#333" stroke-width="0.7" /><path d="M809.2 345.7V354.1H829.9" fill="none" stroke="#222" stroke-width="0.95"/>
<rect x="724.0" y="360.2" width="20.8" height="9.0" rx="1" fill="#fff" stroke="#333" stroke-width="0.7" /><path d="M724.0 361.2V369.2H744.8" fill="none" stroke="#222" stroke-width="0.95"/>
<rect x="752.3" y="360.2" width="20.9" height="9.0" rx="1" fill="#fff" stroke="#333" stroke-width="0.7" /><path d="M752.3 361.2V369.2H773.2" fill="none" stroke="#222" stroke-width="0.95"/>
<rect x="780.8" y="360.2" width="20.8" height="9.0" rx="1" fill="#fff" stroke="#333" stroke-width="0.7" /><path d="M780.8 361.2V369.2H801.6" fill="none" stroke="#222" stroke-width="0.95"/>
<rect x="809.2" y="360.2" width="20.7" height="9.0" rx="1" fill="#fff" stroke="#333" stroke-width="0.7" /><path d="M809.2 361.2V369.2H829.9" fill="none" stroke="#222" stroke-width="0.95"/>
<rect x="724.0" y="375.3" width="20.8" height="9.4" rx="1" fill="#fff" stroke="#333" stroke-width="0.7" /><path d="M724.0 376.3V384.7H744.8" fill="none" stroke="#222" stroke-width="0.95"/>
<rect x="752.3" y="375.3" width="20.9" height="9.4" rx="1" fill="#fff" stroke="#333" stroke-width="0.7" /><path d="M752.3 376.3V384.7H773.2" fill="none" stroke="#222" stroke-width="0.95"/>
<rect x="790.6" y="378.2" width="29.5" height="7.6" rx="3.6" stroke-width="0.6"/><rect x="791.8" y="379.2" width="27.1" height="5.6" rx="2.8" stroke="#222" stroke-width="1"/><rect x="793.8" y="380.4" width="9.8" height="3.2" stroke-width="0.6"/><rect x="807.1" y="380.4" width="9.8" height="3.2" stroke-width="0.6"/><path d="M796.1 382.0h3M809.6 382.0h3" stroke="#222" stroke-width="1"/><path d="M793.1 388.8h1.3M795.6 388.4h4M811.6 388.4h4M816.7 388.8h1" stroke="#555" stroke-width="0.6"/>
<path d="M733 391.2H820.1" stroke="#999" stroke-width="0.5" stroke-dasharray="3 1.2"/>
<rect x="770.2" y="398.9" width="14.3" height="6.8" rx="1" fill="#fff" stroke="#333" stroke-width="0.7" />
<rect x="787.6" y="398.9" width="14.0" height="6.8" rx="1" fill="#fff" stroke="#333" stroke-width="0.7" />
<rect x="804.5" y="398.9" width="14.1" height="6.8" rx="1" fill="#fff" stroke="#333" stroke-width="0.7" />
<circle cx="741.9" cy="402.4" r="2.8" stroke-width="0.7"/><circle cx="757.3" cy="402.4" r="2.8" stroke-width="0.7"/>
<circle cx="729.8" cy="427.2" r="6.8" stroke-width="0.6"/><circle cx="729.8" cy="427.2" r="5.5" stroke-width="0.8"/>
<rect x="752.4" y="420.4" width="67.4" height="14.2" rx="1.2" fill="#fff" stroke="#333" stroke-width="0.6" /><rect x="753.5" y="421.0" width="13.6" height="13.2" rx="1" fill="#fff" stroke="#333" stroke-width="0.7" /><path d="M753.5 422.0V434.2H767.1" fill="none" stroke="#222" stroke-width="0.95"/><text x="760.5" y="430.4" text-anchor="middle" font-size="7.8" font-weight="bold" font-style="italic" fill="#222" stroke="#222" stroke-width="0.3">1</text><rect x="770.6" y="421.0" width="13.9" height="13.2" rx="1" fill="#fff" stroke="#333" stroke-width="0.7" /><path d="M770.6 422.0V434.2H784.5" fill="none" stroke="#222" stroke-width="0.95"/><text x="777.8" y="430.4" text-anchor="middle" font-size="7.8" font-weight="bold" font-style="italic" fill="#222" stroke="#222" stroke-width="0.3">2</text><rect x="787.6" y="421.0" width="14.0" height="13.2" rx="1" fill="#fff" stroke="#333" stroke-width="0.7" /><path d="M787.6 422.0V434.2H801.6" fill="none" stroke="#222" stroke-width="0.95"/><text x="794.8" y="430.4" text-anchor="middle" font-size="7.8" font-weight="bold" font-style="italic" fill="#222" stroke="#222" stroke-width="0.3">3</text><rect x="804.7" y="421.0" width="14.2" height="13.2" rx="1" fill="#fff" stroke="#333" stroke-width="0.7" /><path d="M804.7 422.0V434.2H818.9" fill="none" stroke="#222" stroke-width="0.95"/><text x="812.0" y="430.4" text-anchor="middle" font-size="7.8" font-weight="bold" font-style="italic" fill="#222" stroke="#222" stroke-width="0.3">4</text>
<path d="M724.3 304.4L725.3 305.4L724.3 306.4L723.3 305.4ZM743.0 304.4L744.0 305.4L743.0 306.4L742.0 305.4ZM757.9 304.4L758.9 305.4L757.9 306.4L756.9 305.4ZM772.2 304.4L773.2 305.4L772.2 306.4L771.2 305.4ZM788.9 304.4L789.9 305.4L788.9 306.4L787.9 305.4ZM803.5 304.4L804.5 305.4L803.5 306.4L802.5 305.4ZM818.1 304.4L819.1 305.4L818.1 306.4L817.1 305.4ZM724.3 325.6L725.3 326.6L724.3 327.6L723.3 326.6ZM752.6 325.6L753.6 326.6L752.6 327.6L751.6 326.6ZM781.1 325.6L782.1 326.6L781.1 327.6L780.1 326.6ZM809.5 325.6L810.5 326.6L809.5 327.6L808.5 326.6ZM724.3 341.1L725.3 342.1L724.3 343.1L723.3 342.1ZM752.6 341.1L753.6 342.1L752.6 343.1L751.6 342.1ZM781.1 341.1L782.1 342.1L781.1 343.1L780.1 342.1ZM809.5 341.1L810.5 342.1L809.5 343.1L808.5 342.1ZM724.3 356.6L725.3 357.6L724.3 358.6L723.3 357.6ZM752.6 356.6L753.6 357.6L752.6 358.6L751.6 357.6ZM781.1 356.6L782.1 357.6L781.1 358.6L780.1 357.6ZM809.5 356.6L810.5 357.6L809.5 358.6L808.5 357.6ZM724.3 371.7L725.3 372.7L724.3 373.7L723.3 372.7ZM752.6 371.7L753.6 372.7L752.6 373.7L751.6 372.7ZM770.4 395.2L771.4 396.2L770.4 397.2L769.4 396.2ZM787.8 395.2L788.8 396.2L787.8 397.2L786.8 396.2ZM804.7 395.2L805.7 396.2L804.7 397.2L803.7 396.2ZM724.3 398.8L725.1 399.6L724.3 400.4L723.5 399.6ZM724.3 404.2L725.1 405.0L724.3 405.8L723.5 405.0ZM753.8 416.4L754.8 417.4L753.8 418.4L752.8 417.4ZM770.9 416.4L771.9 417.4L770.9 418.4L769.9 417.4ZM787.9 416.4L788.9 417.4L787.9 418.4L786.9 417.4ZM805.0 416.4L806.0 417.4L805.0 418.4L804.0 417.4Z" fill="#555" stroke="#333" stroke-width="0.4"/>
</g>

<g id="kbcall">
<path d="M388 242H499.4Q508.2 242 508.2 250.8V314.9Q508.2 323.7 499.4 323.7H468.9L497.4 399.6L451 323.7H388Q379.8 323.7 379.8 314.9V250.8Q379.8 242 388 242Z" fill="#fff" stroke="#808080" stroke-width="2.9" stroke-linejoin="round"/>
<rect x="431.8" y="276.2" width="24.9" height="24.2" rx="2.6" fill="#fff" stroke="#555" stroke-width="0.9"/>
<rect x="433" y="277.4" width="22.5" height="21.8" rx="2" fill="none" stroke="#999" stroke-width="0.5"/>
<path d="M432.3 279L434.6 276.7M456.2 279L453.9 276.7M432.3 297.6L434.6 299.9M456.2 297.6L453.9 299.9" stroke="#777" stroke-width="0.6" fill="none"/>
<circle cx="444.3" cy="288.5" r="9.4" fill="#fff" stroke="#1a1a1a" stroke-width="1.5"/>
</g>
<!-- LCD1 -->
<g id="lcd1">
<rect x="435.5" y="540.5" width="330" height="248" fill="#fff" stroke="#000" stroke-width="1"/>
<path d="M435 540H765.2L766 541V568L764.5 566.8H437L435 568.5Z" fill="#000"/>
<line x1="437" y1="552.6" x2="762.5" y2="552.6" stroke="#fff" stroke-width="1.1" stroke-dasharray="1 1"/>
<text x="600.2" y="549.6" text-anchor="middle" font-size="10.6" font-weight="bold" fill="#fff" textLength="28.8" lengthAdjust="spacingAndGlyphs">HELP</text>
<rect x="437.2" y="579.2" width="202.5" height="190.6" rx="2" fill="none" stroke="#000" stroke-width="1.2"/>
<rect x="512.5" y="574" width="49" height="9" fill="#fff"/>
<text class="lcd" x="514" y="582" font-size="10" stroke="#000" stroke-width="0.3" textLength="46" lengthAdjust="spacingAndGlyphs">CONTENTS</text>
<rect x="438" y="634.3" width="200" height="10.5" rx="1.5" fill="#000"/>
<text class="lcd" x="438.3" y="593.0" font-size="10" fill="#000" stroke="#000" stroke-width="0.3" textLength="98.0" lengthAdjust="spacingAndGlyphs" xml:space="preserve">[Basic Operations]</text>
<text class="lcd" x="447.9" y="605.4" font-size="10" fill="#000" stroke="#000" stroke-width="0.3" textLength="96.1" lengthAdjust="spacingAndGlyphs" xml:space="preserve">Operation Buttons</text>
<text class="lcd" x="447.9" y="617.8" font-size="10" fill="#000" stroke="#000" stroke-width="0.3" textLength="181.4" lengthAdjust="spacingAndGlyphs" xml:space="preserve">Select Items and Change Settings</text>
<text class="lcd" x="447.9" y="630.2" font-size="10" fill="#000" stroke="#000" stroke-width="0.3" textLength="73.0" lengthAdjust="spacingAndGlyphs" xml:space="preserve">Direct Access</text>
<text class="lcd" x="447.9" y="642.6" font-size="10" fill="#fff" stroke="#fff" stroke-width="0.3" textLength="105.9" lengthAdjust="spacingAndGlyphs" xml:space="preserve">Using the Functions</text>
<text class="lcd" x="447.9" y="655.0" font-size="10" fill="#000" stroke="#000" stroke-width="0.3" textLength="120.7" lengthAdjust="spacingAndGlyphs" xml:space="preserve">Setting the Split Point</text>
<text class="lcd" x="447.9" y="667.4" font-size="10" fill="#000" stroke="#000" stroke-width="0.3" textLength="95.9" lengthAdjust="spacingAndGlyphs" xml:space="preserve">Setting the Tempo</text>
<text class="lcd" x="447.9" y="679.8" font-size="10" fill="#000" stroke="#000" stroke-width="0.3" textLength="113.3" lengthAdjust="spacingAndGlyphs" xml:space="preserve">Using Channel On/Off</text>
<text class="lcd" x="438.3" y="692.2" font-size="10" fill="#000" stroke="#000" stroke-width="0.3" textLength="87.7" lengthAdjust="spacingAndGlyphs" xml:space="preserve">[File Operations]</text>
<text class="lcd" x="447.9" y="704.6" font-size="10" fill="#000" stroke="#000" stroke-width="0.3" textLength="178.0" lengthAdjust="spacingAndGlyphs" xml:space="preserve">Drive (PRESET/USER/FLOPPY DISK)</text>
<text class="lcd" x="447.9" y="717.0" font-size="10" fill="#000" stroke="#000" stroke-width="0.3" textLength="96.1" lengthAdjust="spacingAndGlyphs" xml:space="preserve">Open/Save Display</text>
<text class="lcd" x="438.3" y="729.4" font-size="10" fill="#000" stroke="#000" stroke-width="0.3" textLength="81.9" lengthAdjust="spacingAndGlyphs" xml:space="preserve">[Demonstration]</text>
<text class="lcd" x="447.9" y="741.8" font-size="10" fill="#000" stroke="#000" stroke-width="0.3" textLength="93.9" lengthAdjust="spacingAndGlyphs" xml:space="preserve">Playing the Demos</text>
<text class="lcd" x="438.3" y="754.2" font-size="10" fill="#000" stroke="#000" stroke-width="0.3" textLength="42.2" lengthAdjust="spacingAndGlyphs" xml:space="preserve">[Voices]</text>
<text class="lcd" x="447.9" y="766.6" font-size="10" fill="#000" stroke="#000" stroke-width="0.3" textLength="87.1" lengthAdjust="spacingAndGlyphs" xml:space="preserve">Selecting Voices</text>
<rect x="642.8" y="704" width="78.5" height="66" rx="2" fill="none" stroke="#000" stroke-width="1.2"/>
<rect x="656.5" y="699" width="51.5" height="9" fill="#fff"/>
<text class="lcd" x="657.7" y="707.2" font-size="10" stroke="#000" stroke-width="0.3" textLength="49.2" lengthAdjust="spacingAndGlyphs">LANGUAGE</text>
<rect x="644.2" y="708.3" width="75.6" height="8.4" rx="2" fill="#000"/>
<text class="lcd" x="660.3" y="715.8" font-size="10" fill="#fff" stroke="#fff" stroke-width="0.3" textLength="42.4" lengthAdjust="spacingAndGlyphs">ENGLISH</text>
<text class="lcd" x="657.3" y="726.1" font-size="10" fill="#000" stroke="#000" stroke-width="0.3" textLength="48.4" lengthAdjust="spacingAndGlyphs">JAPANESE</text>
<text class="lcd" x="663.4" y="736.7" font-size="10" fill="#000" stroke="#000" stroke-width="0.3" textLength="36.3" lengthAdjust="spacingAndGlyphs">GERMAN</text>
<text class="lcd" x="663.4" y="746.5" font-size="10" fill="#000" stroke="#000" stroke-width="0.3" textLength="36.3" lengthAdjust="spacingAndGlyphs">FRENCH</text>
<text class="lcd" x="660.3" y="757.0" font-size="10" fill="#000" stroke="#000" stroke-width="0.3" textLength="42.4" lengthAdjust="spacingAndGlyphs">SPANISH</text>
<text class="lcd" x="660.3" y="767.7" font-size="10" fill="#000" stroke="#000" stroke-width="0.3" textLength="42.4" lengthAdjust="spacingAndGlyphs">ITALIAN</text>
<rect x="437.8" y="772.3" width="117.4" height="12.5" rx="2" fill="#000"/>
<rect x="561.2" y="772.6" width="76" height="11.9" rx="2.5" fill="#000" stroke="#000" stroke-width="0.8"/>
<rect x="562.6" y="774" width="73.2" height="9.1" rx="2" fill="none" stroke="#fff" stroke-width="0.9"/>
<rect x="644.2" y="772.3" width="75.6" height="12.5" rx="2" fill="#000"/>
<rect x="726" y="764.2" width="34.8" height="20.6" rx="1.5" fill="#000"/>
<text x="743.6" y="778.2" text-anchor="middle" font-size="9.3" font-weight="bold" fill="#fff" textLength="29.3" lengthAdjust="spacingAndGlyphs">ENTER</text>
<path d="M486.4 782.5L490.6 774.1L494.8 782.5ZM497.8 774.1L502.6 782.5L507.4 774.1ZM591.7 781.7L594.5 776.7L597.3 781.7ZM601.5 776.7L604.5 781.7L607.5 776.7ZM671.6 782.5L675.8 774.1L680.0 782.5ZM683.2 774.1L688.0 782.5L692.8 774.1Z" fill="#fff"/>
</g>
<!-- ROCKERS -->
<g id="rockers">
<path d="M449.1 831.2 H461.9 Q463.9 831.2 464.5 834 Q468.9 860 468.1 881.5 Q468.9 903 464.5 929 Q463.9 931.8 461.9 931.8 H449.1 Q447.1 931.8 446.5 929 Q442.1 903 442.9 881.5 Q442.1 860 446.5 834 Q447.1 831.2 449.1 831.2Z" fill="#fff" stroke="#777" stroke-width="0.7"/>
<path d="M450.3 831.2 H460.7 Q462.7 831.2 463.3 834 Q467.7 860 466.9 881.5 Q467.7 903 463.3 929 Q462.7 931.8 460.7 931.8 H450.3 Q448.3 931.8 447.7 929 Q443.3 903 444.1 881.5 Q443.3 860 447.7 834 Q448.3 831.2 450.3 831.2Z" fill="#fff" stroke="#999" stroke-width="0.6"/>
<path d="M451.9 833.6 H459.1 Q461.7 833.6 462.0 836.4 L464.8 866.4 Q465.1 869.2 462.5 869.2 H448.5 Q445.9 869.2 446.2 866.4 L449.0 836.4 Q449.3 833.6 451.9 833.6Z" fill="#fff" stroke="#1a1a1a" stroke-width="2"/>
<path d="M451.9 929.6 H459.1 Q461.7 929.6 462.0 926.8 L464.8 897.0 Q465.1 894.2 462.5 894.2 H448.5 Q445.9 894.2 446.2 897.0 L449.0 926.8 Q449.3 929.6 451.9 929.6Z" fill="#fff" stroke="#1a1a1a" stroke-width="2"/>
<rect x="446.3" y="871.4" width="18.4" height="20.6" fill="#fff" stroke="#333" stroke-width="0.9"/>
<rect x="447.5" y="872.6" width="16" height="18.2" fill="none" stroke="#777" stroke-width="0.6"/>
<path d="M455.5 846 L458.8 859.3 H452.2Z" fill="none" stroke="#555" stroke-width="0.8" stroke-linejoin="round"/>
<path d="M455.5 917 L458.8 903.7 H452.2Z" fill="none" stroke="#555" stroke-width="0.8" stroke-linejoin="round"/>
<path d="M490.5 831.2 H503.3 Q505.3 831.2 505.9 834 Q510.3 860 509.5 881.5 Q510.3 903 505.9 929 Q505.3 931.8 503.3 931.8 H490.5 Q488.5 931.8 487.9 929 Q483.5 903 484.3 881.5 Q483.5 860 487.9 834 Q488.5 831.2 490.5 831.2Z" fill="#fff" stroke="#777" stroke-width="0.7"/>
<path d="M491.7 831.2 H502.1 Q504.1 831.2 504.7 834 Q509.1 860 508.3 881.5 Q509.1 903 504.7 929 Q504.1 931.8 502.1 931.8 H491.7 Q489.7 931.8 489.1 929 Q484.7 903 485.5 881.5 Q484.7 860 489.1 834 Q489.7 831.2 491.7 831.2Z" fill="#fff" stroke="#999" stroke-width="0.6"/>
<path d="M493.3 833.6 H500.5 Q503.1 833.6 503.4 836.4 L506.2 866.4 Q506.5 869.2 503.9 869.2 H489.9 Q487.3 869.2 487.6 866.4 L490.4 836.4 Q490.7 833.6 493.3 833.6Z" fill="#fff" stroke="#1a1a1a" stroke-width="2"/>
<path d="M493.3 929.6 H500.5 Q503.1 929.6 503.4 926.8 L506.2 897.0 Q506.5 894.2 503.9 894.2 H489.9 Q487.3 894.2 487.6 897.0 L490.4 926.8 Q490.7 929.6 493.3 929.6Z" fill="#fff" stroke="#1a1a1a" stroke-width="2"/>
<rect x="487.7" y="871.4" width="18.4" height="20.6" fill="#fff" stroke="#333" stroke-width="0.9"/>
<rect x="488.9" y="872.6" width="16" height="18.2" fill="none" stroke="#777" stroke-width="0.6"/>
<path d="M496.9 846 L500.2 859.3 H493.6Z" fill="none" stroke="#555" stroke-width="0.8" stroke-linejoin="round"/>
<path d="M496.9 917 L500.2 903.7 H493.6Z" fill="none" stroke="#555" stroke-width="0.8" stroke-linejoin="round"/>
<path d="M531.8 831.2 H544.6 Q546.6 831.2 547.2 834 Q551.6 860 550.8 881.5 Q551.6 903 547.2 929 Q546.6 931.8 544.6 931.8 H531.8 Q529.8 931.8 529.2 929 Q524.8 903 525.6 881.5 Q524.8 860 529.2 834 Q529.8 831.2 531.8 831.2Z" fill="#fff" stroke="#777" stroke-width="0.7"/>
<path d="M533.0 831.2 H543.4 Q545.4 831.2 546.0 834 Q550.4 860 549.6 881.5 Q550.4 903 546.0 929 Q545.4 931.8 543.4 931.8 H533.0 Q531.0 931.8 530.4 929 Q526.0 903 526.8 881.5 Q526.0 860 530.4 834 Q531.0 831.2 533.0 831.2Z" fill="#fff" stroke="#999" stroke-width="0.6"/>
<path d="M534.6 833.6 H541.8 Q544.4 833.6 544.7 836.4 L547.5 866.4 Q547.8 869.2 545.2 869.2 H531.2 Q528.6 869.2 528.9 866.4 L531.7 836.4 Q532.0 833.6 534.6 833.6Z" fill="#fff" stroke="#1a1a1a" stroke-width="2"/>
<path d="M534.6 929.6 H541.8 Q544.4 929.6 544.7 926.8 L547.5 897.0 Q547.8 894.2 545.2 894.2 H531.2 Q528.6 894.2 528.9 897.0 L531.7 926.8 Q532.0 929.6 534.6 929.6Z" fill="#fff" stroke="#1a1a1a" stroke-width="2"/>
<rect x="529.0" y="871.4" width="18.4" height="20.6" fill="#fff" stroke="#333" stroke-width="0.9"/>
<rect x="530.2" y="872.6" width="16" height="18.2" fill="none" stroke="#777" stroke-width="0.6"/>
<path d="M538.2 846 L541.5 859.3 H534.9Z" fill="none" stroke="#555" stroke-width="0.8" stroke-linejoin="round"/>
<path d="M538.2 917 L541.5 903.7 H534.9Z" fill="none" stroke="#555" stroke-width="0.8" stroke-linejoin="round"/>
<path d="M573.0 831.2 H585.8 Q587.8 831.2 588.4 834 Q592.8 860 592.0 881.5 Q592.8 903 588.4 929 Q587.8 931.8 585.8 931.8 H573.0 Q571.0 931.8 570.4 929 Q566.0 903 566.8 881.5 Q566.0 860 570.4 834 Q571.0 831.2 573.0 831.2Z" fill="#fff" stroke="#777" stroke-width="0.7"/>
<path d="M574.2 831.2 H584.6 Q586.6 831.2 587.2 834 Q591.6 860 590.8 881.5 Q591.6 903 587.2 929 Q586.6 931.8 584.6 931.8 H574.2 Q572.2 931.8 571.6 929 Q567.2 903 568.0 881.5 Q567.2 860 571.6 834 Q572.2 831.2 574.2 831.2Z" fill="#fff" stroke="#999" stroke-width="0.6"/>
<path d="M575.8 833.6 H583.0 Q585.6 833.6 585.9 836.4 L588.7 866.4 Q589.0 869.2 586.4 869.2 H572.4 Q569.8 869.2 570.1 866.4 L572.9 836.4 Q573.2 833.6 575.8 833.6Z" fill="#fff" stroke="#1a1a1a" stroke-width="2"/>
<path d="M575.8 929.6 H583.0 Q585.6 929.6 585.9 926.8 L588.7 897.0 Q589.0 894.2 586.4 894.2 H572.4 Q569.8 894.2 570.1 897.0 L572.9 926.8 Q573.2 929.6 575.8 929.6Z" fill="#fff" stroke="#1a1a1a" stroke-width="2"/>
<rect x="570.2" y="871.4" width="18.4" height="20.6" fill="#fff" stroke="#333" stroke-width="0.9"/>
<rect x="571.4" y="872.6" width="16" height="18.2" fill="none" stroke="#777" stroke-width="0.6"/>
<path d="M579.4 846 L582.7 859.3 H576.1Z" fill="none" stroke="#555" stroke-width="0.8" stroke-linejoin="round"/>
<path d="M579.4 917 L582.7 903.7 H576.1Z" fill="none" stroke="#555" stroke-width="0.8" stroke-linejoin="round"/>
<path d="M614.6 831.2 H627.4 Q629.4 831.2 630.0 834 Q634.4 860 633.6 881.5 Q634.4 903 630.0 929 Q629.4 931.8 627.4 931.8 H614.6 Q612.6 931.8 612.0 929 Q607.6 903 608.4 881.5 Q607.6 860 612.0 834 Q612.6 831.2 614.6 831.2Z" fill="#fff" stroke="#777" stroke-width="0.7"/>
<path d="M615.8 831.2 H626.2 Q628.2 831.2 628.8 834 Q633.2 860 632.4 881.5 Q633.2 903 628.8 929 Q628.2 931.8 626.2 931.8 H615.8 Q613.8 931.8 613.2 929 Q608.8 903 609.6 881.5 Q608.8 860 613.2 834 Q613.8 831.2 615.8 831.2Z" fill="#fff" stroke="#999" stroke-width="0.6"/>
<path d="M617.4 833.6 H624.6 Q627.2 833.6 627.5 836.4 L630.3 866.4 Q630.6 869.2 628.0 869.2 H614.0 Q611.4 869.2 611.7 866.4 L614.5 836.4 Q614.8 833.6 617.4 833.6Z" fill="#fff" stroke="#1a1a1a" stroke-width="2"/>
<path d="M617.4 929.6 H624.6 Q627.2 929.6 627.5 926.8 L630.3 897.0 Q630.6 894.2 628.0 894.2 H614.0 Q611.4 894.2 611.7 897.0 L614.5 926.8 Q614.8 929.6 617.4 929.6Z" fill="#fff" stroke="#1a1a1a" stroke-width="2"/>
<rect x="611.8" y="871.4" width="18.4" height="20.6" fill="#fff" stroke="#333" stroke-width="0.9"/>
<rect x="613.0" y="872.6" width="16" height="18.2" fill="none" stroke="#777" stroke-width="0.6"/>
<path d="M621.0 846 L624.3 859.3 H617.7Z" fill="none" stroke="#555" stroke-width="0.8" stroke-linejoin="round"/>
<path d="M621.0 917 L624.3 903.7 H617.7Z" fill="none" stroke="#555" stroke-width="0.8" stroke-linejoin="round"/>
<path d="M655.9 831.2 H668.7 Q670.7 831.2 671.3 834 Q675.7 860 674.9 881.5 Q675.7 903 671.3 929 Q670.7 931.8 668.7 931.8 H655.9 Q653.9 931.8 653.3 929 Q648.9 903 649.7 881.5 Q648.9 860 653.3 834 Q653.9 831.2 655.9 831.2Z" fill="#fff" stroke="#777" stroke-width="0.7"/>
<path d="M657.1 831.2 H667.5 Q669.5 831.2 670.1 834 Q674.5 860 673.7 881.5 Q674.5 903 670.1 929 Q669.5 931.8 667.5 931.8 H657.1 Q655.1 931.8 654.5 929 Q650.1 903 650.9 881.5 Q650.1 860 654.5 834 Q655.1 831.2 657.1 831.2Z" fill="#fff" stroke="#999" stroke-width="0.6"/>
<path d="M658.7 833.6 H665.9 Q668.5 833.6 668.8 836.4 L671.6 866.4 Q671.9 869.2 669.3 869.2 H655.3 Q652.7 869.2 653.0 866.4 L655.8 836.4 Q656.1 833.6 658.7 833.6Z" fill="#fff" stroke="#1a1a1a" stroke-width="2"/>
<path d="M658.7 929.6 H665.9 Q668.5 929.6 668.8 926.8 L671.6 897.0 Q671.9 894.2 669.3 894.2 H655.3 Q652.7 894.2 653.0 897.0 L655.8 926.8 Q656.1 929.6 658.7 929.6Z" fill="#fff" stroke="#1a1a1a" stroke-width="2"/>
<rect x="653.1" y="871.4" width="18.4" height="20.6" fill="#fff" stroke="#333" stroke-width="0.9"/>
<rect x="654.3" y="872.6" width="16" height="18.2" fill="none" stroke="#777" stroke-width="0.6"/>
<path d="M662.3 846 L665.6 859.3 H659.0Z" fill="none" stroke="#555" stroke-width="0.8" stroke-linejoin="round"/>
<path d="M662.3 917 L665.6 903.7 H659.0Z" fill="none" stroke="#555" stroke-width="0.8" stroke-linejoin="round"/>
<path d="M696.9 831.2 H709.7 Q711.7 831.2 712.3 834 Q716.7 860 715.9 881.5 Q716.7 903 712.3 929 Q711.7 931.8 709.7 931.8 H696.9 Q694.9 931.8 694.3 929 Q689.9 903 690.7 881.5 Q689.9 860 694.3 834 Q694.9 831.2 696.9 831.2Z" fill="#fff" stroke="#777" stroke-width="0.7"/>
<path d="M698.1 831.2 H708.5 Q710.5 831.2 711.1 834 Q715.5 860 714.7 881.5 Q715.5 903 711.1 929 Q710.5 931.8 708.5 931.8 H698.1 Q696.1 931.8 695.5 929 Q691.1 903 691.9 881.5 Q691.1 860 695.5 834 Q696.1 831.2 698.1 831.2Z" fill="#fff" stroke="#999" stroke-width="0.6"/>
<path d="M699.7 833.6 H706.9 Q709.5 833.6 709.8 836.4 L712.6 866.4 Q712.9 869.2 710.3 869.2 H696.3 Q693.7 869.2 694.0 866.4 L696.8 836.4 Q697.1 833.6 699.7 833.6Z" fill="#fff" stroke="#1a1a1a" stroke-width="2"/>
<path d="M699.7 929.6 H706.9 Q709.5 929.6 709.8 926.8 L712.6 897.0 Q712.9 894.2 710.3 894.2 H696.3 Q693.7 894.2 694.0 897.0 L696.8 926.8 Q697.1 929.6 699.7 929.6Z" fill="#fff" stroke="#1a1a1a" stroke-width="2"/>
<rect x="694.1" y="871.4" width="18.4" height="20.6" fill="#fff" stroke="#333" stroke-width="0.9"/>
<rect x="695.3" y="872.6" width="16" height="18.2" fill="none" stroke="#777" stroke-width="0.6"/>
<path d="M703.3 846 L706.6 859.3 H700.0Z" fill="none" stroke="#555" stroke-width="0.8" stroke-linejoin="round"/>
<path d="M703.3 917 L706.6 903.7 H700.0Z" fill="none" stroke="#555" stroke-width="0.8" stroke-linejoin="round"/>
<path d="M738.6 831.2 H751.4 Q753.4 831.2 754.0 834 Q758.4 860 757.6 881.5 Q758.4 903 754.0 929 Q753.4 931.8 751.4 931.8 H738.6 Q736.6 931.8 736.0 929 Q731.6 903 732.4 881.5 Q731.6 860 736.0 834 Q736.6 831.2 738.6 831.2Z" fill="#fff" stroke="#777" stroke-width="0.7"/>
<path d="M739.8 831.2 H750.2 Q752.2 831.2 752.8 834 Q757.2 860 756.4 881.5 Q757.2 903 752.8 929 Q752.2 931.8 750.2 931.8 H739.8 Q737.8 931.8 737.2 929 Q732.8 903 733.6 881.5 Q732.8 860 737.2 834 Q737.8 831.2 739.8 831.2Z" fill="#fff" stroke="#999" stroke-width="0.6"/>
<path d="M741.4 833.6 H748.6 Q751.2 833.6 751.5 836.4 L754.3 866.4 Q754.6 869.2 752.0 869.2 H738.0 Q735.4 869.2 735.7 866.4 L738.5 836.4 Q738.8 833.6 741.4 833.6Z" fill="#b3b3b3" stroke="#1a1a1a" stroke-width="2"/>
<path d="M741.4 929.6 H748.6 Q751.2 929.6 751.5 926.8 L754.3 897.0 Q754.6 894.2 752.0 894.2 H738.0 Q735.4 894.2 735.7 897.0 L738.5 926.8 Q738.8 929.6 741.4 929.6Z" fill="#b3b3b3" stroke="#1a1a1a" stroke-width="2"/>
<rect x="735.8" y="871.4" width="18.4" height="20.6" fill="#fff" stroke="#333" stroke-width="0.9"/>
<rect x="737.0" y="872.6" width="16" height="18.2" fill="none" stroke="#777" stroke-width="0.6"/>
<path d="M745.0 846 L748.3 859.3 H741.7Z" fill="none" stroke="#555" stroke-width="0.8" stroke-linejoin="round"/>
<path d="M745.0 917 L748.3 903.7 H741.7Z" fill="none" stroke="#555" stroke-width="0.8" stroke-linejoin="round"/>
<g fill="none" stroke="#808080" stroke-width="2.7">
<rect x="442.4" y="826.8" width="198" height="107.4" rx="11"/>
<rect x="645.5" y="826.4" width="73" height="107.9" rx="11"/>
<rect x="730" y="825.5" width="35.8" height="107.2" rx="11"/>
<path d="M483.4 935V949"/><path d="M682.4 935.5V948H594.3V1006"/><path d="M747.4 934V949.5"/>
</g></g>
<!-- LCD2 -->
<g id="lcd2">
<rect x="148.5" y="1205.5" width="332" height="250" fill="#fff" stroke="#000" stroke-width="1"/>
<path d="M148 1205H481V1235L479.5 1232.8H150L148 1234.5Z" fill="#000"/>
<line x1="150" y1="1217.5" x2="478.4" y2="1217.5" stroke="#fff" stroke-width="1.1" stroke-dasharray="1 1"/>
<text x="314.4" y="1214.6" text-anchor="middle" font-size="11.2" font-weight="bold" fill="#fff" textLength="28.4" lengthAdjust="spacingAndGlyphs">HELP</text>
<rect x="298" y="1205" width="34" height="1.6" fill="#000"/>
<rect x="305" y="1209.6" width="22" height="0.9" fill="#000"/>
<text x="153.6" y="1258.6" font-family="Liberation Serif" style="font-family:'Liberation Serif',serif" font-size="17.6" stroke="#000" stroke-width="0.5" textLength="292" lengthAdjust="spacingAndGlyphs">Using the Functions (Function Menu)</text>
<line x1="153.9" y1="1266.5" x2="474.8" y2="1266.5" stroke="#000" stroke-width="1"/>
<text class="lcdr" x="153.9" y="1287.3" font-size="11" textLength="11.6" lengthAdjust="spacingAndGlyphs">1.</text>
<text class="lcdr" x="174" y="1287.3" font-size="11" textLength="58.7" lengthAdjust="spacingAndGlyphs" xml:space="preserve">Call up the</text>
<text class="lcdr" x="174" y="1298.8" font-size="11" textLength="129.7" lengthAdjust="spacingAndGlyphs" xml:space="preserve">by pressing [FUNCTION].</text>
<text class="lcdr" x="153.9" y="1321.8" font-size="11" textLength="11.6" lengthAdjust="spacingAndGlyphs">2.</text>
<text class="lcdr" x="174" y="1321.8" font-size="11" textLength="223.3" lengthAdjust="spacingAndGlyphs" xml:space="preserve">Select the appropriate Function display</text>
<text class="lcdr" x="174" y="1333.3" font-size="11" textLength="114.9" lengthAdjust="spacingAndGlyphs" xml:space="preserve">by pressing [A] - [I].</text>
<text class="lcdr" x="153.9" y="1356.3" font-size="11" textLength="11.6" lengthAdjust="spacingAndGlyphs">3.</text>
<text class="lcdr" x="174" y="1356.3" font-size="11" textLength="175.2" lengthAdjust="spacingAndGlyphs" xml:space="preserve">Call up the appropriate page by</text>
<text class="lcdr" x="174" y="1367.8" font-size="11" textLength="110.5" lengthAdjust="spacingAndGlyphs" xml:space="preserve">using [BACK]/[NEXT].</text>
<text class="lcdr" x="153.9" y="1390.8" font-size="11" textLength="11.6" lengthAdjust="spacingAndGlyphs">4.</text>
<text class="lcdr" x="174" y="1390.8" font-size="11" textLength="253.6" lengthAdjust="spacingAndGlyphs" xml:space="preserve">Select the desired parameter with [A] or [B],</text>
<text class="lcdr" x="174" y="1402.3" font-size="11" textLength="265.4" lengthAdjust="spacingAndGlyphs" xml:space="preserve">then make the setting by using [1▲▼] - [8▲▼].</text>
<rect x="238" y="1278.2" width="78.7" height="10.4" fill="#000"/>
<text x="240" y="1287" font-size="10.4" fill="#fff" textLength="75" lengthAdjust="spacingAndGlyphs">FUNCTION MENU</text>
<text class="lcdr" x="321" y="1287.3" font-size="11" textLength="39.5" lengthAdjust="spacingAndGlyphs">display</text>
<rect x="233.8" y="1272.6" width="90.2" height="22" rx="10.5" fill="none" stroke="#808080" stroke-width="2.6"/>
<line x1="299.6" y1="1294.5" x2="299.6" y2="1490.5" stroke="#808080" stroke-width="2.6"/>
</g>
<!-- NOTE BADGES -->
<g id="badges">
<rect x="823" y="512.4" width="58.3" height="18" fill="#fff"/>
<path d="M823.2 513.4H877.4Q879.4 513.4 879.4 515.4V527.2Q879.4 529.2 877.4 529.2H823.2Z" fill="#231f20"/>
<path d="M834.9 513.1H836.1V524.4Q836.1 527.9 832.4 529.5H830.6Q834.9 527.4 834.9 524.4Z" fill="#fff"/>
<ellipse cx="826.9" cy="525.4" rx="2.7" ry="1.7" transform="rotate(-25 826.9 525.4)" fill="#fff"/>
<path d="M828.5 525.4L829.2 516.2Q833.2 517.6 832.8 523.2Q831.4 519.6 830.1 519.4L829.6 525.6Z" fill="#fff"/>
<text x="840.2" y="527.7" font-size="16.6" font-weight="bold" fill="#fff" stroke="#fff" stroke-width="0.9" textLength="34.6" lengthAdjust="spacingAndGlyphs">NOTE</text>
<rect x="823" y="721.2" width="58.3" height="18" fill="#fff"/>
<path d="M823.2 722.2H877.4Q879.4 722.2 879.4 724.2V736.0Q879.4 738.0 877.4 738.0H823.2Z" fill="#231f20"/>
<path d="M834.9 721.9H836.1V733.2Q836.1 736.7 832.4 738.3H830.6Q834.9 736.2 834.9 733.2Z" fill="#fff"/>
<ellipse cx="826.9" cy="734.2" rx="2.7" ry="1.7" transform="rotate(-25 826.9 734.2)" fill="#fff"/>
<path d="M828.5 734.2L829.2 725.0Q833.2 726.4 832.8 732.0Q831.4 728.4 830.1 728.2L829.6 734.4Z" fill="#fff"/>
<text x="840.2" y="736.5" font-size="16.6" font-weight="bold" fill="#fff" stroke="#fff" stroke-width="0.9" textLength="34.6" lengthAdjust="spacingAndGlyphs">NOTE</text>
<rect x="823" y="842.2" width="58.3" height="18" fill="#fff"/>
<path d="M823.2 843.2H877.4Q879.4 843.2 879.4 845.2V857.0Q879.4 859.0 877.4 859.0H823.2Z" fill="#231f20"/>
<path d="M834.9 842.9H836.1V854.2Q836.1 857.7 832.4 859.3H830.6Q834.9 857.2 834.9 854.2Z" fill="#fff"/>
<ellipse cx="826.9" cy="855.2" rx="2.7" ry="1.7" transform="rotate(-25 826.9 855.2)" fill="#fff"/>
<path d="M828.5 855.2L829.2 846.0Q833.2 847.4 832.8 853.0Q831.4 849.4 830.1 849.2L829.6 855.4Z" fill="#fff"/>
<text x="840.2" y="857.5" font-size="16.6" font-weight="bold" fill="#fff" stroke="#fff" stroke-width="0.9" textLength="34.6" lengthAdjust="spacingAndGlyphs">NOTE</text>
</g>
<!-- BOX1 -->
<g id="box1c">
<rect x="186.6" y="524.4" width="63.4" height="12.2" rx="2.6" fill="#fff" stroke="#222" stroke-width="1.3"/>
<rect x="206.4" y="550.3" width="24" height="24.2" rx="2.6" fill="#fff" stroke="#888" stroke-width="0.9"/>
<path d="M206.8 552.9L209 550.6M227.8 550.6L230 552.9M206.8 571.9L209 574.2M227.8 574.2L230 571.9" stroke="#999" stroke-width="0.6" fill="none"/>
<circle cx="218.3" cy="562.4" r="9.3" fill="#fff" stroke="#222" stroke-width="1.4"/>
<rect x="206.4" y="593.0" width="24" height="24.2" rx="2.6" fill="#fff" stroke="#888" stroke-width="0.9"/>
<path d="M206.8 595.6L209 593.3M227.8 593.3L230 595.6M206.8 614.6L209 616.9M227.8 616.9L230 614.6" stroke="#999" stroke-width="0.6" fill="none"/>
<circle cx="218.3" cy="605.1" r="9.3" fill="#b3b3b3" stroke="#222" stroke-width="1.4"/>
<rect x="206.4" y="635.3" width="24" height="24.2" rx="2.6" fill="#fff" stroke="#888" stroke-width="0.9"/>
<path d="M206.8 637.9L209 635.6M227.8 635.6L230 637.9M206.8 656.9L209 659.2M227.8 659.2L230 656.9" stroke="#999" stroke-width="0.6" fill="none"/>
<circle cx="218.3" cy="647.4" r="9.3" fill="#fff" stroke="#222" stroke-width="1.4"/>
<g transform="translate(218 605.7) rotate(0) scale(1)" stroke="#111" stroke-width="1.25" stroke-linejoin="round" stroke-linecap="round"><path d="M-19.39 21.79C-19.00 20.12 -18.99 18.59 -18.23 16.79C-17.48 15.00 -16.31 13.04 -14.88 11.04C-13.44 9.04 -11.28 6.48 -9.60 4.80C-7.92 3.12 -6.24 1.87 -4.80 0.96C-3.36 0.05 -2.05 -0.59 -0.96 -0.67C0.13 -0.75 1.25 -0.19 1.73 0.48C2.21 1.15 2.37 2.24 1.92 3.36C1.47 4.48 0.16 5.92 -0.96 7.20C-2.08 8.48 -3.68 9.76 -4.80 11.04C-5.92 12.32 -7.07 13.95 -7.68 14.88C-8.29 15.80 -8.19 16.03 -8.45 16.60C-7.23 16.22 -6.16 15.48 -4.80 15.45C-3.44 15.42 -1.41 15.77 -0.29 16.41C0.83 17.05 1.52 18.30 1.92 19.29C2.32 20.28 2.05 21.34 2.11 22.36C2.78 23.00 3.61 23.48 4.13 24.28C4.64 25.08 5.12 26.30 5.18 27.16C5.25 28.02 4.73 28.69 4.51 29.46C4.96 30.20 5.58 30.74 5.85 31.67C6.13 32.60 6.35 34.02 6.14 35.03C5.93 36.04 5.12 36.82 4.61 37.72C4.09 38.68 4.00 39.44 3.07 40.60C2.14 41.75 0.51 43.39 -0.96 44.63C-2.43 45.86 -4.32 46.90 -5.76 47.98C-7.20 49.07 -8.32 50.27 -9.60 51.15C-10.88 52.03 -12.08 52.99 -13.44 53.26C-14.80 53.53 -16.31 53.26 -17.75 52.78C-19.19 52.30 -20.79 51.42 -22.07 50.38C-23.35 49.34 -24.63 47.82 -25.43 46.55C-26.23 45.27 -26.87 43.95 -26.87 42.71C-26.87 41.46 -25.91 40.28 -25.43 39.06C-25.11 37.40 -24.55 35.94 -24.47 34.07C-24.39 32.20 -24.55 29.51 -24.95 27.83C-25.35 26.15 -26.07 25.19 -26.87 23.99C-27.67 22.79 -29.11 21.75 -29.75 20.63C-30.39 19.51 -30.87 18.28 -30.71 17.27C-30.55 16.27 -29.75 15.12 -28.79 14.59C-27.83 14.06 -26.15 13.77 -24.95 14.11C-23.75 14.44 -22.52 15.32 -21.59 16.60C-20.67 17.88 -20.12 20.06 -19.39 21.79Z" fill="#fff"/><path d="M2.11 22.36Q-0.48 23.70 -4.61 23.03M4.51 29.46Q1.92 30.42 -0.96 29.27M4.61 37.72Q1.92 39.83 -0.19 37.72M-0.19 37.72Q0.48 36.47 1.92 36.76M-11.52 47.98Q-4.80 47.50 1.44 38.39M-24.95 38.68L-22.55 40.98M-19.39 21.79Q-19.19 18.71 -18.04 16.03" fill="none"/></g>
</g>
<!-- BOX3 right / BOX4 -->
<g id="box34">
<rect x="496.6" y="1187.2" width="142.1" height="57.3" rx="12" fill="none" stroke="#808080" stroke-width="2.7"/>
<line x1="567.4" y1="1245" x2="567.4" y2="1259.8" stroke="#808080" stroke-width="2.7"/>
<path d="M518.3 1231.7V1215.2Q518.3 1210.2 523.3 1210.2H559.4Q564.4 1210.2 564.4 1215.2V1231.7M566.7 1231.7V1215.2Q566.7 1210.2 571.7 1210.2H607.8Q612.8 1210.2 612.8 1215.2V1231.7M518 1231.7H613.1" fill="none" stroke="#333" stroke-width="0.9"/>
<rect x="524.4" y="1214.4" width="34" height="13.6" rx="2.2" fill="#fff" stroke="#111" stroke-width="1.7"/>
<rect x="572.8" y="1214.4" width="33.8" height="13.6" rx="2.2" fill="#fff" stroke="#111" stroke-width="1.7"/>
<path d="M533.2 1221.2L547.6 1218.2V1224.5ZM597.6 1221.2L583.4 1218.2V1224.5Z" fill="none" stroke="#666" stroke-width="0.7" stroke-linejoin="round"/>
<path d="M650.6 1337.2327A74.1 74.1 0 0 0 650.6 1485.3673L650.6 1481.1928A69.9 69.9 0 0 1 650.6 1341.4072Z" fill="#1a1a1a"/>
<path d="M663.9 1339.3L649.8 1331.6V1347.6ZM663.9 1483.3L649.8 1475.4V1491.4Z" fill="#1a1a1a"/>
<circle cx="656.5" cy="1412.5" r="56" fill="#b3b3b3" stroke="#222" stroke-width="1.8"/>
<circle cx="656.5" cy="1412.5" r="50.4" fill="none" stroke="#333" stroke-width="0.6"/>
<circle cx="656.2" cy="1412.8" r="28.2" fill="none" stroke="#333" stroke-width="0.7"/>
<path d="M659.4 1365.2L660.5 1366.3L659.4 1367.4L658.3 1366.3ZM656.5 1372.0L657.6 1373.1L656.5 1374.2L655.4 1373.1ZM654.6 1379.2L655.7 1380.3L654.6 1381.4L653.5 1380.3ZM682.1 1372.8L683.2 1373.9L682.1 1375.0L681.0 1373.9ZM676.2 1377.3L677.3 1378.4L676.2 1379.5L675.1 1378.4ZM671.0 1382.5L672.1 1383.6L671.0 1384.7L669.9 1383.6ZM698.0 1390.8L699.1 1391.9L698.0 1393.0L696.9 1391.9ZM690.6 1391.7L691.7 1392.8L690.6 1393.9L689.5 1392.8ZM683.5 1393.6L684.6 1394.7L683.5 1395.8L682.4 1394.7ZM702.7 1414.3L703.8 1415.4L702.7 1416.5L701.6 1415.4ZM695.9 1411.4L697.0 1412.5L695.9 1413.6L694.8 1412.5ZM688.7 1409.5L689.8 1410.6L688.7 1411.7L687.6 1410.6ZM695.1 1437.0L696.2 1438.1L695.1 1439.2L694.0 1438.1ZM690.6 1431.1L691.7 1432.2L690.6 1433.3L689.5 1432.2ZM685.4 1425.9L686.5 1427.0L685.4 1428.1L684.3 1427.0ZM677.1 1452.9L678.2 1454.0L677.1 1455.1L676.0 1454.0ZM676.2 1445.5L677.3 1446.6L676.2 1447.7L675.1 1446.6ZM674.3 1438.4L675.4 1439.5L674.3 1440.6L673.2 1439.5ZM653.6 1457.6L654.7 1458.7L653.6 1459.8L652.5 1458.7ZM656.5 1450.8L657.6 1451.9L656.5 1453.0L655.4 1451.9ZM658.4 1443.6L659.5 1444.7L658.4 1445.8L657.3 1444.7ZM630.9 1450.0L632.0 1451.1L630.9 1452.2L629.8 1451.1ZM636.8 1445.5L637.9 1446.6L636.8 1447.7L635.7 1446.6ZM642.0 1440.3L643.1 1441.4L642.0 1442.5L640.9 1441.4ZM615.0 1432.0L616.1 1433.1L615.0 1434.2L613.9 1433.1ZM622.4 1431.1L623.5 1432.2L622.4 1433.3L621.3 1432.2ZM629.5 1429.2L630.6 1430.3L629.5 1431.4L628.4 1430.3ZM610.3 1408.5L611.4 1409.6L610.3 1410.7L609.2 1409.6ZM617.1 1411.4L618.2 1412.5L617.1 1413.6L616.0 1412.5ZM624.3 1413.3L625.4 1414.4L624.3 1415.5L623.2 1414.4ZM617.9 1385.8L619.0 1386.9L617.9 1388.0L616.8 1386.9ZM622.4 1391.7L623.5 1392.8L622.4 1393.9L621.3 1392.8ZM627.6 1396.9L628.7 1398.0L627.6 1399.1L626.5 1398.0ZM635.9 1369.9L637.0 1371.0L635.9 1372.1L634.8 1371.0ZM636.8 1377.3L637.9 1378.4L636.8 1379.5L635.7 1378.4ZM638.7 1384.4L639.8 1385.5L638.7 1386.6L637.6 1385.5Z" fill="#aaa" stroke="#333" stroke-width="0.55"/>
<circle cx="767.1" cy="1398.5" r="20.7" fill="#fff" stroke="#333" stroke-width="0.7"/>
<circle cx="767.1" cy="1398.5" r="16.8" fill="#b3b3b3" stroke="#333" stroke-width="0.7"/>
<line x1="720.8" y1="1400.6" x2="745" y2="1400.6" stroke="#555" stroke-width="1" stroke-dasharray="1 2.4"/>
<g transform="translate(622.5 1435.4) rotate(0) scale(1)" stroke="#111" stroke-width="1.20" stroke-linejoin="round" stroke-linecap="round"><path d="M-19.39 21.79C-19.00 20.12 -18.99 18.59 -18.23 16.79C-17.48 15.00 -16.31 13.04 -14.88 11.04C-13.44 9.04 -11.28 6.48 -9.60 4.80C-7.92 3.12 -6.24 1.87 -4.80 0.96C-3.36 0.05 -2.05 -0.59 -0.96 -0.67C0.13 -0.75 1.25 -0.19 1.73 0.48C2.21 1.15 2.37 2.24 1.92 3.36C1.47 4.48 0.16 5.92 -0.96 7.20C-2.08 8.48 -3.68 9.76 -4.80 11.04C-5.92 12.32 -7.07 13.95 -7.68 14.88C-8.29 15.80 -8.19 16.03 -8.45 16.60C-7.23 16.22 -6.16 15.48 -4.80 15.45C-3.44 15.42 -1.41 15.77 -0.29 16.41C0.83 17.05 1.52 18.30 1.92 19.29C2.32 20.28 2.05 21.34 2.11 22.36C2.78 23.00 3.61 23.48 4.13 24.28C4.64 25.08 5.12 26.30 5.18 27.16C5.25 28.02 4.73 28.69 4.51 29.46C4.96 30.20 5.58 30.74 5.85 31.67C6.13 32.60 6.35 34.02 6.14 35.03C5.93 36.04 5.12 36.82 4.61 37.72C4.09 38.68 4.00 39.44 3.07 40.60C2.14 41.75 0.51 43.39 -0.96 44.63C-2.43 45.86 -4.32 46.90 -5.76 47.98C-7.20 49.07 -8.32 50.27 -9.60 51.15C-10.88 52.03 -12.08 52.99 -13.44 53.26C-14.80 53.53 -16.31 53.26 -17.75 52.78C-19.19 52.30 -20.79 51.42 -22.07 50.38C-23.35 49.34 -24.63 47.82 -25.43 46.55C-26.23 45.27 -26.87 43.95 -26.87 42.71C-26.87 41.46 -25.91 40.28 -25.43 39.06C-25.11 37.40 -24.55 35.94 -24.47 34.07C-24.39 32.20 -24.55 29.51 -24.95 27.83C-25.35 26.15 -26.07 25.19 -26.87 23.99C-27.67 22.79 -29.11 21.75 -29.75 20.63C-30.39 19.51 -30.87 18.28 -30.71 17.27C-30.55 16.27 -29.75 15.12 -28.79 14.59C-27.83 14.06 -26.15 13.77 -24.95 14.11C-23.75 14.44 -22.52 15.32 -21.59 16.60C-20.67 17.88 -20.12 20.06 -19.39 21.79Z" fill="#fff"/><path d="M2.11 22.36Q-0.48 23.70 -4.61 23.03M4.51 29.46Q1.92 30.42 -0.96 29.27M4.61 37.72Q1.92 39.83 -0.19 37.72M-0.19 37.72Q0.48 36.47 1.92 36.76M-11.52 47.98Q-4.80 47.50 1.44 38.39M-24.95 38.68L-22.55 40.98M-19.39 21.79Q-19.19 18.71 -18.04 16.03" fill="none"/></g>
<rect x="915.1" y="1326.8" width="57.1" height="56.3" rx="6" fill="#000"/>
<ellipse cx="946.2" cy="1348.6" rx="2.4" ry="3.1" transform="rotate(35 946.2 1348.6)" fill="#fff"/>
<path d="M948.5 1347.5L942.9 1330.2Q945 1333.3 947.6 1334.2Q951.6 1336.4 951.8 1344" fill="none" stroke="#fff" stroke-width="0.9" stroke-linecap="round" stroke-linejoin="round"/>
<path d="M952.2 1345.6Q954.5 1343.4 958 1343Q962 1342.6 963 1339.4Q963.6 1335.6 965.7 1334.2" fill="none" stroke="#fff" stroke-width="0.8" stroke-linecap="round"/>
<path d="M1006.2 1477.5Q1024.3 1472.0 1042.4 1477.5Q1048.4 1479.3 1048.4 1485.8Q1049.0 1501.3 1048.4 1516.8Q1048.4 1523.3 1042.4 1525.0Q1024.3 1530.5 1006.2 1525.0Q1000.2 1523.3 1000.2 1516.8Q999.6 1501.3 1000.2 1485.8Q1000.2 1479.3 1006.2 1477.5Z" fill="#fff" stroke="#333" stroke-width="0.7"/>
<path d="M1009.4 1482.4Q1024.0 1477.4 1038.7 1482.4Q1043.7 1484.0 1043.7 1489.4Q1044.2 1501.3 1043.7 1513.3Q1043.7 1518.8 1038.7 1520.3Q1024.0 1525.3 1009.4 1520.3Q1004.4 1518.8 1004.4 1513.3Q1003.9 1501.3 1004.4 1489.4Q1004.4 1484.0 1009.4 1482.4Z" fill="#b3b3b3" stroke="#111" stroke-width="2.3"/>
<g fill="#c4c4c4" stroke="#555" stroke-width="0.6"><circle cx="1024.0" cy="1489.2" r="2.2"/><circle cx="1024.0" cy="1513.5" r="2.2"/><circle cx="1011.7" cy="1501.3" r="2.2"/><circle cx="1036.4" cy="1501.3" r="2.2"/><circle cx="1024.0" cy="1501.3" r="2.2"/><circle cx="1017.9" cy="1495.3" r="2.2"/><circle cx="1030.3" cy="1495.3" r="2.2"/><circle cx="1017.9" cy="1507.4" r="2.2"/><circle cx="1030.3" cy="1507.4" r="2.2"/></g>
<g transform="translate(1007.5 1510.6) rotate(9) scale(0.95)" stroke="#111" stroke-width="1.26" stroke-linejoin="round" stroke-linecap="round"><path d="M-19.39 21.79C-19.00 20.12 -18.99 18.59 -18.23 16.79C-17.48 15.00 -16.31 13.04 -14.88 11.04C-13.44 9.04 -11.28 6.48 -9.60 4.80C-7.92 3.12 -6.24 1.87 -4.80 0.96C-3.36 0.05 -2.05 -0.59 -0.96 -0.67C0.13 -0.75 1.25 -0.19 1.73 0.48C2.21 1.15 2.37 2.24 1.92 3.36C1.47 4.48 0.16 5.92 -0.96 7.20C-2.08 8.48 -3.68 9.76 -4.80 11.04C-5.92 12.32 -7.07 13.95 -7.68 14.88C-8.29 15.80 -8.19 16.03 -8.45 16.60C-7.23 16.22 -6.16 15.48 -4.80 15.45C-3.44 15.42 -1.41 15.77 -0.29 16.41C0.83 17.05 1.52 18.30 1.92 19.29C2.32 20.28 2.05 21.34 2.11 22.36C2.78 23.00 3.61 23.48 4.13 24.28C4.64 25.08 5.12 26.30 5.18 27.16C5.25 28.02 4.73 28.69 4.51 29.46C4.96 30.20 5.58 30.74 5.85 31.67C6.13 32.60 6.35 34.02 6.14 35.03C5.93 36.04 5.12 36.82 4.61 37.72C4.09 38.68 4.00 39.44 3.07 40.60C2.14 41.75 0.51 43.39 -0.96 44.63C-2.43 45.86 -4.32 46.90 -5.76 47.98C-7.20 49.07 -8.32 50.27 -9.60 51.15C-10.88 52.03 -12.08 52.99 -13.44 53.26C-14.80 53.53 -16.31 53.26 -17.75 52.78C-19.19 52.30 -20.79 51.42 -22.07 50.38C-23.35 49.34 -24.63 47.82 -25.43 46.55C-26.23 45.27 -26.87 43.95 -26.87 42.71C-26.87 41.46 -25.91 40.28 -25.43 39.06C-25.11 37.40 -24.55 35.94 -24.47 34.07C-24.39 32.20 -24.55 29.51 -24.95 27.83C-25.35 26.15 -26.07 25.19 -26.87 23.99C-27.67 22.79 -29.11 21.75 -29.75 20.63C-30.39 19.51 -30.87 18.28 -30.71 17.27C-30.55 16.27 -29.75 15.12 -28.79 14.59C-27.83 14.06 -26.15 13.77 -24.95 14.11C-23.75 14.44 -22.52 15.32 -21.59 16.60C-20.67 17.88 -20.12 20.06 -19.39 21.79Z" fill="#fff"/><path d="M2.11 22.36Q-0.48 23.70 -4.61 23.03M4.51 29.46Q1.92 30.42 -0.96 29.27M4.61 37.72Q1.92 39.83 -0.19 37.72M-0.19 37.72Q0.48 36.47 1.92 36.76M-11.52 47.98Q-4.80 47.50 1.44 38.39M-24.95 38.68L-22.55 40.98M-19.39 21.79Q-19.19 18.71 -18.04 16.03" fill="none"/></g>
</g>

</svg>
</body></html>
